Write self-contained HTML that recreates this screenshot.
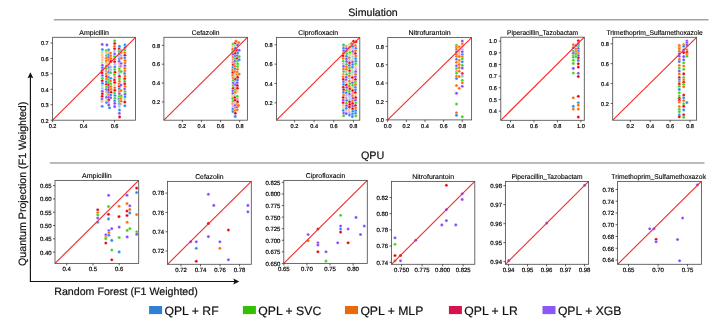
<!DOCTYPE html>
<html><head><meta charset="utf-8"><style>
html,body{margin:0;padding:0;background:#fff;width:714px;height:325px;overflow:hidden}
svg{display:block;will-change:transform}
text{font-family:"Liberation Sans", sans-serif;text-rendering:geometricPrecision}
</style></head><body>
<svg width="714" height="325" viewBox="0 0 714 325">
<rect width="714" height="325" fill="#fff"/>
<line x1="53.9" y1="19.7" x2="708.5" y2="19.7" stroke="#a3a3a3" stroke-width="1.4"/>
<text x="373.0" y="16.4" font-size="10.6" text-anchor="middle" fill="#111" stroke="#111" stroke-width="0.2">Simulation</text>
<line x1="49.8" y1="163.0" x2="704.5" y2="163.0" stroke="#a3a3a3" stroke-width="1.4"/>
<text x="372.6" y="159.0" font-size="10.8" text-anchor="middle" fill="#111" stroke="#111" stroke-width="0.2">QPU</text>
<text x="94.05" y="34.80" font-size="6.9" text-anchor="middle" fill="#000" stroke="#000" stroke-width="0.12" textLength="29.60" lengthAdjust="spacingAndGlyphs">Ampicillin</text>
<circle cx="102.20" cy="44.40" r="1.55" fill="#8248fb" stroke="#fff" stroke-width="0.35"/>
<circle cx="102.36" cy="49.60" r="1.55" fill="#2a86f5" stroke="#fff" stroke-width="0.35"/>
<circle cx="102.23" cy="52.20" r="1.55" fill="#3ad41c" fill-opacity="0.45" stroke="#fff" stroke-width="0.35"/>
<circle cx="102.23" cy="54.80" r="1.55" fill="#ff6a05" fill-opacity="0.45" stroke="#fff" stroke-width="0.35"/>
<circle cx="102.43" cy="57.40" r="1.55" fill="#ff6a05" fill-opacity="0.45" stroke="#fff" stroke-width="0.35"/>
<circle cx="102.20" cy="60.00" r="1.55" fill="#ff6a05" fill-opacity="0.45" stroke="#fff" stroke-width="0.35"/>
<circle cx="102.12" cy="62.60" r="1.55" fill="#3ad41c" fill-opacity="0.45" stroke="#fff" stroke-width="0.35"/>
<circle cx="102.44" cy="65.20" r="1.55" fill="#8248fb" stroke="#fff" stroke-width="0.35"/>
<circle cx="102.39" cy="67.80" r="1.55" fill="#8248fb" stroke="#fff" stroke-width="0.35"/>
<circle cx="102.16" cy="70.40" r="1.55" fill="#2a86f5" stroke="#fff" stroke-width="0.35"/>
<circle cx="102.07" cy="73.00" r="1.55" fill="#e8000b" stroke="#fff" stroke-width="0.35"/>
<circle cx="102.35" cy="75.60" r="1.55" fill="#8248fb" stroke="#fff" stroke-width="0.35"/>
<circle cx="102.35" cy="78.20" r="1.55" fill="#3ad41c" stroke="#fff" stroke-width="0.35"/>
<circle cx="102.21" cy="80.80" r="1.55" fill="#e8000b" stroke="#fff" stroke-width="0.35"/>
<circle cx="102.44" cy="83.40" r="1.55" fill="#2a86f5" stroke="#fff" stroke-width="0.35"/>
<circle cx="102.22" cy="86.00" r="1.55" fill="#3ad41c" fill-opacity="0.45" stroke="#fff" stroke-width="0.35"/>
<circle cx="102.31" cy="88.60" r="1.55" fill="#2a86f5" fill-opacity="0.45" stroke="#fff" stroke-width="0.35"/>
<circle cx="102.34" cy="91.20" r="1.55" fill="#8248fb" stroke="#fff" stroke-width="0.35"/>
<circle cx="102.33" cy="93.80" r="1.55" fill="#e8000b" stroke="#fff" stroke-width="0.35"/>
<circle cx="102.11" cy="96.40" r="1.55" fill="#e8000b" stroke="#fff" stroke-width="0.35"/>
<circle cx="102.05" cy="99.00" r="1.55" fill="#8248fb" stroke="#fff" stroke-width="0.35"/>
<circle cx="101.99" cy="101.60" r="1.55" fill="#ff6a05" fill-opacity="0.45" stroke="#fff" stroke-width="0.35"/>
<circle cx="102.20" cy="106.30" r="1.55" fill="#2a86f5" stroke="#fff" stroke-width="0.35"/>
<circle cx="106.90" cy="44.90" r="1.55" fill="#8248fb" stroke="#fff" stroke-width="0.35"/>
<circle cx="106.23" cy="50.50" r="1.55" fill="#3ad41c" stroke="#fff" stroke-width="0.35"/>
<circle cx="106.15" cy="53.10" r="1.55" fill="#ff6a05" fill-opacity="0.45" stroke="#fff" stroke-width="0.35"/>
<circle cx="106.45" cy="55.70" r="1.55" fill="#3ad41c" stroke="#fff" stroke-width="0.35"/>
<circle cx="106.35" cy="58.30" r="1.55" fill="#ff6a05" stroke="#fff" stroke-width="0.35"/>
<circle cx="106.27" cy="60.90" r="1.55" fill="#ff6a05" stroke="#fff" stroke-width="0.35"/>
<circle cx="106.35" cy="63.50" r="1.55" fill="#ff6a05" fill-opacity="0.45" stroke="#fff" stroke-width="0.35"/>
<circle cx="106.27" cy="66.10" r="1.55" fill="#ff6a05" stroke="#fff" stroke-width="0.35"/>
<circle cx="106.18" cy="68.70" r="1.55" fill="#3ad41c" stroke="#fff" stroke-width="0.35"/>
<circle cx="106.25" cy="71.30" r="1.55" fill="#e8000b" fill-opacity="0.45" stroke="#fff" stroke-width="0.35"/>
<circle cx="106.30" cy="73.90" r="1.55" fill="#ff6a05" stroke="#fff" stroke-width="0.35"/>
<circle cx="106.55" cy="76.50" r="1.55" fill="#e8000b" stroke="#fff" stroke-width="0.35"/>
<circle cx="106.41" cy="79.10" r="1.55" fill="#ff6a05" stroke="#fff" stroke-width="0.35"/>
<circle cx="106.34" cy="81.70" r="1.55" fill="#2a86f5" stroke="#fff" stroke-width="0.35"/>
<circle cx="106.49" cy="84.30" r="1.55" fill="#e8000b" stroke="#fff" stroke-width="0.35"/>
<circle cx="106.52" cy="86.90" r="1.55" fill="#3ad41c" stroke="#fff" stroke-width="0.35"/>
<circle cx="106.32" cy="89.50" r="1.55" fill="#2a86f5" stroke="#fff" stroke-width="0.35"/>
<circle cx="106.62" cy="92.10" r="1.55" fill="#e8000b" fill-opacity="0.45" stroke="#fff" stroke-width="0.35"/>
<circle cx="106.35" cy="94.70" r="1.55" fill="#3ad41c" fill-opacity="0.45" stroke="#fff" stroke-width="0.35"/>
<circle cx="106.51" cy="97.30" r="1.55" fill="#8248fb" stroke="#fff" stroke-width="0.35"/>
<circle cx="106.54" cy="99.90" r="1.55" fill="#3ad41c" fill-opacity="0.45" stroke="#fff" stroke-width="0.35"/>
<circle cx="106.56" cy="102.50" r="1.55" fill="#2a86f5" stroke="#fff" stroke-width="0.35"/>
<circle cx="108.61" cy="49.90" r="1.55" fill="#2a86f5" stroke="#fff" stroke-width="0.35"/>
<circle cx="108.71" cy="52.40" r="1.55" fill="#ff6a05" fill-opacity="0.45" stroke="#fff" stroke-width="0.35"/>
<circle cx="108.65" cy="54.90" r="1.55" fill="#2a86f5" stroke="#fff" stroke-width="0.35"/>
<circle cx="108.69" cy="57.40" r="1.55" fill="#8248fb" stroke="#fff" stroke-width="0.35"/>
<circle cx="108.82" cy="59.90" r="1.55" fill="#ff6a05" stroke="#fff" stroke-width="0.35"/>
<circle cx="108.94" cy="62.40" r="1.55" fill="#ff6a05" fill-opacity="0.45" stroke="#fff" stroke-width="0.35"/>
<circle cx="108.94" cy="64.90" r="1.55" fill="#e8000b" fill-opacity="0.45" stroke="#fff" stroke-width="0.35"/>
<circle cx="108.88" cy="67.40" r="1.55" fill="#2a86f5" stroke="#fff" stroke-width="0.35"/>
<circle cx="108.88" cy="69.90" r="1.55" fill="#e8000b" fill-opacity="0.45" stroke="#fff" stroke-width="0.35"/>
<circle cx="108.71" cy="72.40" r="1.55" fill="#2a86f5" stroke="#fff" stroke-width="0.35"/>
<circle cx="108.58" cy="74.90" r="1.55" fill="#ff6a05" fill-opacity="0.45" stroke="#fff" stroke-width="0.35"/>
<circle cx="108.64" cy="77.40" r="1.55" fill="#2a86f5" stroke="#fff" stroke-width="0.35"/>
<circle cx="108.60" cy="79.90" r="1.55" fill="#3ad41c" stroke="#fff" stroke-width="0.35"/>
<circle cx="108.66" cy="82.40" r="1.55" fill="#3ad41c" stroke="#fff" stroke-width="0.35"/>
<circle cx="108.67" cy="84.90" r="1.55" fill="#e8000b" stroke="#fff" stroke-width="0.35"/>
<circle cx="109.00" cy="87.40" r="1.55" fill="#8248fb" stroke="#fff" stroke-width="0.35"/>
<circle cx="108.63" cy="89.90" r="1.55" fill="#e8000b" stroke="#fff" stroke-width="0.35"/>
<circle cx="108.65" cy="92.40" r="1.55" fill="#2a86f5" stroke="#fff" stroke-width="0.35"/>
<circle cx="108.61" cy="94.90" r="1.55" fill="#ff6a05" stroke="#fff" stroke-width="0.35"/>
<circle cx="108.66" cy="97.40" r="1.55" fill="#8248fb" stroke="#fff" stroke-width="0.35"/>
<circle cx="108.83" cy="99.90" r="1.55" fill="#e8000b" stroke="#fff" stroke-width="0.35"/>
<circle cx="108.60" cy="102.40" r="1.55" fill="#8248fb" fill-opacity="0.45" stroke="#fff" stroke-width="0.35"/>
<circle cx="108.73" cy="104.90" r="1.55" fill="#8248fb" stroke="#fff" stroke-width="0.35"/>
<circle cx="110.61" cy="53.00" r="1.55" fill="#ff6a05" stroke="#fff" stroke-width="0.35"/>
<circle cx="110.64" cy="55.80" r="1.55" fill="#ff6a05" stroke="#fff" stroke-width="0.35"/>
<circle cx="110.84" cy="58.60" r="1.55" fill="#ff6a05" stroke="#fff" stroke-width="0.35"/>
<circle cx="110.81" cy="61.40" r="1.55" fill="#e8000b" stroke="#fff" stroke-width="0.35"/>
<circle cx="110.90" cy="67.00" r="1.55" fill="#8248fb" fill-opacity="0.45" stroke="#fff" stroke-width="0.35"/>
<circle cx="110.75" cy="69.80" r="1.55" fill="#2a86f5" fill-opacity="0.45" stroke="#fff" stroke-width="0.35"/>
<circle cx="110.60" cy="72.60" r="1.55" fill="#3ad41c" stroke="#fff" stroke-width="0.35"/>
<circle cx="110.83" cy="78.20" r="1.55" fill="#2a86f5" stroke="#fff" stroke-width="0.35"/>
<circle cx="110.61" cy="81.00" r="1.55" fill="#ff6a05" stroke="#fff" stroke-width="0.35"/>
<circle cx="110.66" cy="83.80" r="1.55" fill="#3ad41c" stroke="#fff" stroke-width="0.35"/>
<circle cx="110.87" cy="86.60" r="1.55" fill="#ff6a05" stroke="#fff" stroke-width="0.35"/>
<circle cx="111.05" cy="89.40" r="1.55" fill="#ff6a05" stroke="#fff" stroke-width="0.35"/>
<circle cx="111.04" cy="92.20" r="1.55" fill="#e8000b" stroke="#fff" stroke-width="0.35"/>
<circle cx="110.76" cy="95.00" r="1.55" fill="#2a86f5" stroke="#fff" stroke-width="0.35"/>
<circle cx="110.68" cy="97.80" r="1.55" fill="#8248fb" stroke="#fff" stroke-width="0.35"/>
<circle cx="109.50" cy="107.80" r="1.55" fill="#2a86f5" stroke="#fff" stroke-width="0.35"/>
<circle cx="114.70" cy="40.80" r="1.55" fill="#3ad41c" stroke="#fff" stroke-width="0.35"/>
<circle cx="114.70" cy="43.60" r="1.55" fill="#e8000b" stroke="#fff" stroke-width="0.35"/>
<circle cx="114.50" cy="46.20" r="1.55" fill="#ff6a05" stroke="#fff" stroke-width="0.35"/>
<circle cx="114.56" cy="48.80" r="1.55" fill="#e8000b" stroke="#fff" stroke-width="0.35"/>
<circle cx="114.46" cy="51.40" r="1.55" fill="#2a86f5" fill-opacity="0.45" stroke="#fff" stroke-width="0.35"/>
<circle cx="114.64" cy="54.00" r="1.55" fill="#8248fb" stroke="#fff" stroke-width="0.35"/>
<circle cx="114.47" cy="56.60" r="1.55" fill="#3ad41c" stroke="#fff" stroke-width="0.35"/>
<circle cx="114.62" cy="59.20" r="1.55" fill="#ff6a05" stroke="#fff" stroke-width="0.35"/>
<circle cx="114.64" cy="61.80" r="1.55" fill="#e8000b" stroke="#fff" stroke-width="0.35"/>
<circle cx="114.85" cy="64.40" r="1.55" fill="#8248fb" fill-opacity="0.45" stroke="#fff" stroke-width="0.35"/>
<circle cx="114.83" cy="67.00" r="1.55" fill="#2a86f5" stroke="#fff" stroke-width="0.35"/>
<circle cx="114.70" cy="69.60" r="1.55" fill="#3ad41c" stroke="#fff" stroke-width="0.35"/>
<circle cx="114.89" cy="72.20" r="1.55" fill="#e8000b" stroke="#fff" stroke-width="0.35"/>
<circle cx="114.47" cy="74.80" r="1.55" fill="#3ad41c" stroke="#fff" stroke-width="0.35"/>
<circle cx="114.84" cy="77.40" r="1.55" fill="#e8000b" fill-opacity="0.45" stroke="#fff" stroke-width="0.35"/>
<circle cx="114.45" cy="80.00" r="1.55" fill="#e8000b" stroke="#fff" stroke-width="0.35"/>
<circle cx="114.76" cy="82.60" r="1.55" fill="#e8000b" stroke="#fff" stroke-width="0.35"/>
<circle cx="114.61" cy="85.20" r="1.55" fill="#3ad41c" fill-opacity="0.45" stroke="#fff" stroke-width="0.35"/>
<circle cx="114.77" cy="87.80" r="1.55" fill="#ff6a05" stroke="#fff" stroke-width="0.35"/>
<circle cx="114.79" cy="90.40" r="1.55" fill="#e8000b" stroke="#fff" stroke-width="0.35"/>
<circle cx="114.58" cy="93.00" r="1.55" fill="#3ad41c" stroke="#fff" stroke-width="0.35"/>
<circle cx="114.92" cy="95.60" r="1.55" fill="#2a86f5" stroke="#fff" stroke-width="0.35"/>
<circle cx="114.93" cy="98.20" r="1.55" fill="#3ad41c" stroke="#fff" stroke-width="0.35"/>
<circle cx="114.64" cy="100.80" r="1.55" fill="#2a86f5" stroke="#fff" stroke-width="0.35"/>
<circle cx="114.79" cy="103.40" r="1.55" fill="#8248fb" stroke="#fff" stroke-width="0.35"/>
<circle cx="114.70" cy="106.60" r="1.55" fill="#8248fb" stroke="#fff" stroke-width="0.35"/>
<circle cx="119.42" cy="46.40" r="1.55" fill="#2a86f5" stroke="#fff" stroke-width="0.35"/>
<circle cx="119.23" cy="48.90" r="1.55" fill="#e8000b" stroke="#fff" stroke-width="0.35"/>
<circle cx="119.15" cy="51.40" r="1.55" fill="#3ad41c" stroke="#fff" stroke-width="0.35"/>
<circle cx="119.29" cy="53.90" r="1.55" fill="#2a86f5" stroke="#fff" stroke-width="0.35"/>
<circle cx="119.06" cy="56.40" r="1.55" fill="#2a86f5" fill-opacity="0.45" stroke="#fff" stroke-width="0.35"/>
<circle cx="119.39" cy="58.90" r="1.55" fill="#2a86f5" stroke="#fff" stroke-width="0.35"/>
<circle cx="119.18" cy="61.40" r="1.55" fill="#8248fb" stroke="#fff" stroke-width="0.35"/>
<circle cx="119.25" cy="63.90" r="1.55" fill="#ff6a05" fill-opacity="0.45" stroke="#fff" stroke-width="0.35"/>
<circle cx="119.37" cy="66.40" r="1.55" fill="#8248fb" fill-opacity="0.45" stroke="#fff" stroke-width="0.35"/>
<circle cx="119.38" cy="68.90" r="1.55" fill="#3ad41c" stroke="#fff" stroke-width="0.35"/>
<circle cx="119.53" cy="71.40" r="1.55" fill="#ff6a05" stroke="#fff" stroke-width="0.35"/>
<circle cx="119.18" cy="73.90" r="1.55" fill="#2a86f5" fill-opacity="0.45" stroke="#fff" stroke-width="0.35"/>
<circle cx="119.42" cy="76.40" r="1.55" fill="#e8000b" stroke="#fff" stroke-width="0.35"/>
<circle cx="119.45" cy="78.90" r="1.55" fill="#3ad41c" stroke="#fff" stroke-width="0.35"/>
<circle cx="119.45" cy="81.40" r="1.55" fill="#ff6a05" stroke="#fff" stroke-width="0.35"/>
<circle cx="119.20" cy="83.90" r="1.55" fill="#ff6a05" stroke="#fff" stroke-width="0.35"/>
<circle cx="119.36" cy="86.40" r="1.55" fill="#e8000b" stroke="#fff" stroke-width="0.35"/>
<circle cx="119.29" cy="88.90" r="1.55" fill="#2a86f5" stroke="#fff" stroke-width="0.35"/>
<circle cx="119.55" cy="91.40" r="1.55" fill="#ff6a05" stroke="#fff" stroke-width="0.35"/>
<circle cx="119.45" cy="93.90" r="1.55" fill="#8248fb" stroke="#fff" stroke-width="0.35"/>
<circle cx="119.12" cy="96.40" r="1.55" fill="#3ad41c" stroke="#fff" stroke-width="0.35"/>
<circle cx="119.06" cy="98.90" r="1.55" fill="#2a86f5" stroke="#fff" stroke-width="0.35"/>
<circle cx="119.46" cy="101.40" r="1.55" fill="#3ad41c" stroke="#fff" stroke-width="0.35"/>
<circle cx="119.35" cy="103.90" r="1.55" fill="#2a86f5" stroke="#fff" stroke-width="0.35"/>
<circle cx="119.37" cy="106.40" r="1.55" fill="#2a86f5" fill-opacity="0.45" stroke="#fff" stroke-width="0.35"/>
<circle cx="121.04" cy="50.00" r="1.55" fill="#2a86f5" fill-opacity="0.45" stroke="#fff" stroke-width="0.35"/>
<circle cx="121.18" cy="52.70" r="1.55" fill="#ff6a05" stroke="#fff" stroke-width="0.35"/>
<circle cx="121.06" cy="55.40" r="1.55" fill="#8248fb" fill-opacity="0.45" stroke="#fff" stroke-width="0.35"/>
<circle cx="121.32" cy="58.10" r="1.55" fill="#ff6a05" stroke="#fff" stroke-width="0.35"/>
<circle cx="121.09" cy="63.50" r="1.55" fill="#8248fb" stroke="#fff" stroke-width="0.35"/>
<circle cx="120.89" cy="66.20" r="1.55" fill="#e8000b" fill-opacity="0.45" stroke="#fff" stroke-width="0.35"/>
<circle cx="121.13" cy="71.60" r="1.55" fill="#3ad41c" stroke="#fff" stroke-width="0.35"/>
<circle cx="120.94" cy="85.10" r="1.55" fill="#8248fb" stroke="#fff" stroke-width="0.35"/>
<circle cx="121.02" cy="90.50" r="1.55" fill="#ff6a05" stroke="#fff" stroke-width="0.35"/>
<circle cx="121.21" cy="95.90" r="1.55" fill="#3ad41c" stroke="#fff" stroke-width="0.35"/>
<circle cx="120.86" cy="98.60" r="1.55" fill="#ff6a05" stroke="#fff" stroke-width="0.35"/>
<circle cx="121.18" cy="101.30" r="1.55" fill="#ff6a05" stroke="#fff" stroke-width="0.35"/>
<circle cx="120.92" cy="104.00" r="1.55" fill="#ff6a05" fill-opacity="0.45" stroke="#fff" stroke-width="0.35"/>
<circle cx="119.50" cy="110.00" r="1.55" fill="#2a86f5" stroke="#fff" stroke-width="0.35"/>
<circle cx="119.40" cy="113.20" r="1.55" fill="#8248fb" stroke="#fff" stroke-width="0.35"/>
<circle cx="119.60" cy="116.90" r="1.55" fill="#e8000b" stroke="#fff" stroke-width="0.35"/>
<circle cx="124.90" cy="44.90" r="1.55" fill="#2a86f5" stroke="#fff" stroke-width="0.35"/>
<circle cx="125.12" cy="47.50" r="1.55" fill="#2a86f5" stroke="#fff" stroke-width="0.35"/>
<circle cx="124.86" cy="50.10" r="1.55" fill="#3ad41c" stroke="#fff" stroke-width="0.35"/>
<circle cx="124.78" cy="52.70" r="1.55" fill="#ff6a05" stroke="#fff" stroke-width="0.35"/>
<circle cx="124.89" cy="55.30" r="1.55" fill="#e8000b" stroke="#fff" stroke-width="0.35"/>
<circle cx="124.78" cy="57.90" r="1.55" fill="#2a86f5" stroke="#fff" stroke-width="0.35"/>
<circle cx="125.13" cy="60.50" r="1.55" fill="#ff6a05" stroke="#fff" stroke-width="0.35"/>
<circle cx="125.00" cy="63.10" r="1.55" fill="#ff6a05" stroke="#fff" stroke-width="0.35"/>
<circle cx="124.88" cy="65.70" r="1.55" fill="#8248fb" stroke="#fff" stroke-width="0.35"/>
<circle cx="124.86" cy="68.30" r="1.55" fill="#ff6a05" stroke="#fff" stroke-width="0.35"/>
<circle cx="124.81" cy="70.90" r="1.55" fill="#ff6a05" stroke="#fff" stroke-width="0.35"/>
<circle cx="124.66" cy="73.50" r="1.55" fill="#2a86f5" stroke="#fff" stroke-width="0.35"/>
<circle cx="125.03" cy="76.10" r="1.55" fill="#ff6a05" stroke="#fff" stroke-width="0.35"/>
<circle cx="124.72" cy="78.70" r="1.55" fill="#e8000b" stroke="#fff" stroke-width="0.35"/>
<circle cx="124.66" cy="81.30" r="1.55" fill="#3ad41c" stroke="#fff" stroke-width="0.35"/>
<circle cx="124.75" cy="83.90" r="1.55" fill="#e8000b" stroke="#fff" stroke-width="0.35"/>
<circle cx="125.06" cy="86.50" r="1.55" fill="#ff6a05" stroke="#fff" stroke-width="0.35"/>
<circle cx="124.65" cy="89.10" r="1.55" fill="#8248fb" stroke="#fff" stroke-width="0.35"/>
<circle cx="125.08" cy="91.70" r="1.55" fill="#3ad41c" stroke="#fff" stroke-width="0.35"/>
<circle cx="125.00" cy="94.30" r="1.55" fill="#8248fb" stroke="#fff" stroke-width="0.35"/>
<circle cx="124.91" cy="96.90" r="1.55" fill="#2a86f5" stroke="#fff" stroke-width="0.35"/>
<circle cx="124.70" cy="99.50" r="1.55" fill="#3ad41c" fill-opacity="0.45" stroke="#fff" stroke-width="0.35"/>
<circle cx="124.81" cy="102.10" r="1.55" fill="#e8000b" stroke="#fff" stroke-width="0.35"/>
<circle cx="124.90" cy="105.70" r="1.55" fill="#2a86f5" stroke="#fff" stroke-width="0.35"/>
<line x1="52.60" y1="120.20" x2="135.50" y2="37.30" stroke="#f42a2a" stroke-width="1.1"/>
<rect x="52.60" y="37.30" width="82.90" height="82.90" fill="none" stroke="#505050" stroke-width="0.85"/>
<line x1="52.60" y1="120.20" x2="52.60" y2="122.20" stroke="#333" stroke-width="0.8"/>
<text x="52.60" y="127.80" font-size="5.6" text-anchor="middle" fill="#000" stroke="#000" stroke-width="0.18">0.2</text>
<line x1="83.56" y1="120.20" x2="83.56" y2="122.20" stroke="#333" stroke-width="0.8"/>
<text x="83.56" y="127.80" font-size="5.6" text-anchor="middle" fill="#000" stroke="#000" stroke-width="0.18">0.4</text>
<line x1="114.52" y1="120.20" x2="114.52" y2="122.20" stroke="#333" stroke-width="0.8"/>
<text x="114.52" y="127.80" font-size="5.6" text-anchor="middle" fill="#000" stroke="#000" stroke-width="0.18">0.6</text>
<line x1="50.60" y1="120.20" x2="52.60" y2="120.20" stroke="#333" stroke-width="0.8"/>
<text x="48.70" y="122.50" font-size="5.6" text-anchor="end" fill="#000" stroke="#000" stroke-width="0.18">0.2</text>
<line x1="50.60" y1="104.76" x2="52.60" y2="104.76" stroke="#333" stroke-width="0.8"/>
<text x="48.70" y="107.06" font-size="5.6" text-anchor="end" fill="#000" stroke="#000" stroke-width="0.18">0.3</text>
<line x1="50.60" y1="89.32" x2="52.60" y2="89.32" stroke="#333" stroke-width="0.8"/>
<text x="48.70" y="91.62" font-size="5.6" text-anchor="end" fill="#000" stroke="#000" stroke-width="0.18">0.4</text>
<line x1="50.60" y1="73.89" x2="52.60" y2="73.89" stroke="#333" stroke-width="0.8"/>
<text x="48.70" y="76.19" font-size="5.6" text-anchor="end" fill="#000" stroke="#000" stroke-width="0.18">0.5</text>
<line x1="50.60" y1="58.45" x2="52.60" y2="58.45" stroke="#333" stroke-width="0.8"/>
<text x="48.70" y="60.75" font-size="5.6" text-anchor="end" fill="#000" stroke="#000" stroke-width="0.18">0.6</text>
<line x1="50.60" y1="43.01" x2="52.60" y2="43.01" stroke="#333" stroke-width="0.8"/>
<text x="48.70" y="45.31" font-size="5.6" text-anchor="end" fill="#000" stroke="#000" stroke-width="0.18">0.7</text>
<text x="205.65" y="34.80" font-size="6.9" text-anchor="middle" fill="#000" stroke="#000" stroke-width="0.12" textLength="27.80" lengthAdjust="spacingAndGlyphs">Cefazolin</text>
<circle cx="232.99" cy="44.00" r="1.55" fill="#3ad41c" stroke="#fff" stroke-width="0.35"/>
<circle cx="232.87" cy="46.60" r="1.55" fill="#ff6a05" fill-opacity="0.45" stroke="#fff" stroke-width="0.35"/>
<circle cx="232.67" cy="49.20" r="1.55" fill="#ff6a05" stroke="#fff" stroke-width="0.35"/>
<circle cx="232.80" cy="51.80" r="1.55" fill="#3ad41c" stroke="#fff" stroke-width="0.35"/>
<circle cx="233.06" cy="54.40" r="1.55" fill="#8248fb" stroke="#fff" stroke-width="0.35"/>
<circle cx="233.09" cy="57.00" r="1.55" fill="#ff6a05" stroke="#fff" stroke-width="0.35"/>
<circle cx="232.99" cy="59.60" r="1.55" fill="#e8000b" fill-opacity="0.45" stroke="#fff" stroke-width="0.35"/>
<circle cx="232.75" cy="62.20" r="1.55" fill="#e8000b" fill-opacity="0.45" stroke="#fff" stroke-width="0.35"/>
<circle cx="233.20" cy="64.80" r="1.55" fill="#e8000b" stroke="#fff" stroke-width="0.35"/>
<circle cx="233.01" cy="67.40" r="1.55" fill="#2a86f5" stroke="#fff" stroke-width="0.35"/>
<circle cx="232.66" cy="70.00" r="1.55" fill="#ff6a05" stroke="#fff" stroke-width="0.35"/>
<circle cx="232.79" cy="72.60" r="1.55" fill="#e8000b" stroke="#fff" stroke-width="0.35"/>
<circle cx="232.72" cy="75.20" r="1.55" fill="#ff6a05" stroke="#fff" stroke-width="0.35"/>
<circle cx="233.13" cy="77.80" r="1.55" fill="#ff6a05" stroke="#fff" stroke-width="0.35"/>
<circle cx="233.14" cy="80.40" r="1.55" fill="#3ad41c" stroke="#fff" stroke-width="0.35"/>
<circle cx="233.17" cy="83.00" r="1.55" fill="#8248fb" stroke="#fff" stroke-width="0.35"/>
<circle cx="233.15" cy="85.60" r="1.55" fill="#3ad41c" stroke="#fff" stroke-width="0.35"/>
<circle cx="233.19" cy="88.20" r="1.55" fill="#e8000b" stroke="#fff" stroke-width="0.35"/>
<circle cx="232.86" cy="90.80" r="1.55" fill="#8248fb" stroke="#fff" stroke-width="0.35"/>
<circle cx="232.93" cy="93.40" r="1.55" fill="#8248fb" stroke="#fff" stroke-width="0.35"/>
<circle cx="232.76" cy="96.00" r="1.55" fill="#ff6a05" fill-opacity="0.45" stroke="#fff" stroke-width="0.35"/>
<circle cx="232.67" cy="98.60" r="1.55" fill="#3ad41c" stroke="#fff" stroke-width="0.35"/>
<circle cx="233.02" cy="101.20" r="1.55" fill="#3ad41c" stroke="#fff" stroke-width="0.35"/>
<circle cx="232.68" cy="103.80" r="1.55" fill="#e8000b" fill-opacity="0.45" stroke="#fff" stroke-width="0.35"/>
<circle cx="233.13" cy="106.40" r="1.55" fill="#8248fb" fill-opacity="0.45" stroke="#fff" stroke-width="0.35"/>
<circle cx="232.82" cy="109.00" r="1.55" fill="#2a86f5" stroke="#fff" stroke-width="0.35"/>
<circle cx="232.94" cy="111.60" r="1.55" fill="#2a86f5" stroke="#fff" stroke-width="0.35"/>
<circle cx="235.23" cy="43.00" r="1.55" fill="#e8000b" stroke="#fff" stroke-width="0.35"/>
<circle cx="234.93" cy="45.60" r="1.55" fill="#3ad41c" fill-opacity="0.45" stroke="#fff" stroke-width="0.35"/>
<circle cx="235.41" cy="48.20" r="1.55" fill="#8248fb" stroke="#fff" stroke-width="0.35"/>
<circle cx="235.29" cy="50.80" r="1.55" fill="#ff6a05" stroke="#fff" stroke-width="0.35"/>
<circle cx="235.41" cy="53.40" r="1.55" fill="#e8000b" stroke="#fff" stroke-width="0.35"/>
<circle cx="235.10" cy="56.00" r="1.55" fill="#2a86f5" stroke="#fff" stroke-width="0.35"/>
<circle cx="235.12" cy="58.60" r="1.55" fill="#3ad41c" stroke="#fff" stroke-width="0.35"/>
<circle cx="234.90" cy="61.20" r="1.55" fill="#8248fb" stroke="#fff" stroke-width="0.35"/>
<circle cx="234.91" cy="63.80" r="1.55" fill="#e8000b" fill-opacity="0.45" stroke="#fff" stroke-width="0.35"/>
<circle cx="234.96" cy="66.40" r="1.55" fill="#ff6a05" stroke="#fff" stroke-width="0.35"/>
<circle cx="235.12" cy="69.00" r="1.55" fill="#2a86f5" stroke="#fff" stroke-width="0.35"/>
<circle cx="234.94" cy="71.60" r="1.55" fill="#ff6a05" stroke="#fff" stroke-width="0.35"/>
<circle cx="235.21" cy="74.20" r="1.55" fill="#2a86f5" fill-opacity="0.45" stroke="#fff" stroke-width="0.35"/>
<circle cx="235.22" cy="76.80" r="1.55" fill="#3ad41c" fill-opacity="0.45" stroke="#fff" stroke-width="0.35"/>
<circle cx="235.45" cy="79.40" r="1.55" fill="#e8000b" stroke="#fff" stroke-width="0.35"/>
<circle cx="235.38" cy="82.00" r="1.55" fill="#2a86f5" fill-opacity="0.45" stroke="#fff" stroke-width="0.35"/>
<circle cx="235.33" cy="84.60" r="1.55" fill="#8248fb" stroke="#fff" stroke-width="0.35"/>
<circle cx="235.42" cy="87.20" r="1.55" fill="#2a86f5" fill-opacity="0.45" stroke="#fff" stroke-width="0.35"/>
<circle cx="235.31" cy="89.80" r="1.55" fill="#3ad41c" stroke="#fff" stroke-width="0.35"/>
<circle cx="235.35" cy="92.40" r="1.55" fill="#ff6a05" stroke="#fff" stroke-width="0.35"/>
<circle cx="234.93" cy="95.00" r="1.55" fill="#3ad41c" fill-opacity="0.45" stroke="#fff" stroke-width="0.35"/>
<circle cx="234.95" cy="97.60" r="1.55" fill="#e8000b" stroke="#fff" stroke-width="0.35"/>
<circle cx="235.05" cy="100.20" r="1.55" fill="#e8000b" stroke="#fff" stroke-width="0.35"/>
<circle cx="234.94" cy="102.80" r="1.55" fill="#ff6a05" fill-opacity="0.45" stroke="#fff" stroke-width="0.35"/>
<circle cx="235.18" cy="105.40" r="1.55" fill="#8248fb" stroke="#fff" stroke-width="0.35"/>
<circle cx="235.02" cy="108.00" r="1.55" fill="#e8000b" fill-opacity="0.45" stroke="#fff" stroke-width="0.35"/>
<circle cx="235.17" cy="110.60" r="1.55" fill="#ff6a05" stroke="#fff" stroke-width="0.35"/>
<circle cx="235.38" cy="113.20" r="1.55" fill="#e8000b" stroke="#fff" stroke-width="0.35"/>
<circle cx="237.45" cy="45.00" r="1.55" fill="#8248fb" stroke="#fff" stroke-width="0.35"/>
<circle cx="237.35" cy="50.40" r="1.55" fill="#e8000b" stroke="#fff" stroke-width="0.35"/>
<circle cx="237.69" cy="53.10" r="1.55" fill="#2a86f5" stroke="#fff" stroke-width="0.35"/>
<circle cx="237.36" cy="55.80" r="1.55" fill="#8248fb" stroke="#fff" stroke-width="0.35"/>
<circle cx="237.21" cy="58.50" r="1.55" fill="#e8000b" stroke="#fff" stroke-width="0.35"/>
<circle cx="237.40" cy="61.20" r="1.55" fill="#3ad41c" stroke="#fff" stroke-width="0.35"/>
<circle cx="237.71" cy="63.90" r="1.55" fill="#3ad41c" stroke="#fff" stroke-width="0.35"/>
<circle cx="237.55" cy="66.60" r="1.55" fill="#3ad41c" stroke="#fff" stroke-width="0.35"/>
<circle cx="237.58" cy="69.30" r="1.55" fill="#ff6a05" stroke="#fff" stroke-width="0.35"/>
<circle cx="237.22" cy="72.00" r="1.55" fill="#ff6a05" stroke="#fff" stroke-width="0.35"/>
<circle cx="237.30" cy="74.70" r="1.55" fill="#ff6a05" stroke="#fff" stroke-width="0.35"/>
<circle cx="237.64" cy="77.40" r="1.55" fill="#e8000b" stroke="#fff" stroke-width="0.35"/>
<circle cx="237.46" cy="80.10" r="1.55" fill="#2a86f5" stroke="#fff" stroke-width="0.35"/>
<circle cx="237.24" cy="82.80" r="1.55" fill="#8248fb" stroke="#fff" stroke-width="0.35"/>
<circle cx="237.28" cy="85.50" r="1.55" fill="#e8000b" stroke="#fff" stroke-width="0.35"/>
<circle cx="237.51" cy="88.20" r="1.55" fill="#e8000b" stroke="#fff" stroke-width="0.35"/>
<circle cx="237.39" cy="90.90" r="1.55" fill="#ff6a05" fill-opacity="0.45" stroke="#fff" stroke-width="0.35"/>
<circle cx="237.28" cy="96.30" r="1.55" fill="#3ad41c" stroke="#fff" stroke-width="0.35"/>
<circle cx="237.48" cy="99.00" r="1.55" fill="#e8000b" fill-opacity="0.45" stroke="#fff" stroke-width="0.35"/>
<circle cx="237.53" cy="101.70" r="1.55" fill="#e8000b" stroke="#fff" stroke-width="0.35"/>
<circle cx="237.23" cy="104.40" r="1.55" fill="#ff6a05" stroke="#fff" stroke-width="0.35"/>
<circle cx="237.20" cy="107.10" r="1.55" fill="#8248fb" stroke="#fff" stroke-width="0.35"/>
<circle cx="237.23" cy="109.80" r="1.55" fill="#ff6a05" stroke="#fff" stroke-width="0.35"/>
<circle cx="239.17" cy="50.20" r="1.55" fill="#8248fb" stroke="#fff" stroke-width="0.35"/>
<circle cx="239.24" cy="56.60" r="1.55" fill="#3ad41c" stroke="#fff" stroke-width="0.35"/>
<circle cx="239.25" cy="59.80" r="1.55" fill="#2a86f5" stroke="#fff" stroke-width="0.35"/>
<circle cx="236.00" cy="41.10" r="1.55" fill="#ff6a05" stroke="#fff" stroke-width="0.35"/>
<circle cx="238.70" cy="42.60" r="1.55" fill="#ff6a05" stroke="#fff" stroke-width="0.35"/>
<circle cx="238.50" cy="105.50" r="1.55" fill="#ff6a05" stroke="#fff" stroke-width="0.35"/>
<circle cx="239.20" cy="74.00" r="1.55" fill="#ff6a05" stroke="#fff" stroke-width="0.35"/>
<circle cx="235.20" cy="116.40" r="1.55" fill="#2a86f5" stroke="#fff" stroke-width="0.35"/>
<line x1="163.90" y1="120.20" x2="247.40" y2="37.30" stroke="#f42a2a" stroke-width="1.1"/>
<rect x="163.90" y="37.30" width="83.50" height="82.90" fill="none" stroke="#505050" stroke-width="0.85"/>
<line x1="182.32" y1="120.20" x2="182.32" y2="122.20" stroke="#333" stroke-width="0.8"/>
<text x="182.32" y="127.80" font-size="5.6" text-anchor="middle" fill="#000" stroke="#000" stroke-width="0.18">0.2</text>
<line x1="201.43" y1="120.20" x2="201.43" y2="122.20" stroke="#333" stroke-width="0.8"/>
<text x="201.43" y="127.80" font-size="5.6" text-anchor="middle" fill="#000" stroke="#000" stroke-width="0.18">0.4</text>
<line x1="220.54" y1="120.20" x2="220.54" y2="122.20" stroke="#333" stroke-width="0.8"/>
<text x="220.54" y="127.80" font-size="5.6" text-anchor="middle" fill="#000" stroke="#000" stroke-width="0.18">0.6</text>
<line x1="239.66" y1="120.20" x2="239.66" y2="122.20" stroke="#333" stroke-width="0.8"/>
<text x="239.66" y="127.80" font-size="5.6" text-anchor="middle" fill="#000" stroke="#000" stroke-width="0.18">0.8</text>
<line x1="161.90" y1="101.90" x2="163.90" y2="101.90" stroke="#333" stroke-width="0.8"/>
<text x="160.00" y="104.20" font-size="5.6" text-anchor="end" fill="#000" stroke="#000" stroke-width="0.18">0.2</text>
<line x1="161.90" y1="83.04" x2="163.90" y2="83.04" stroke="#333" stroke-width="0.8"/>
<text x="160.00" y="85.34" font-size="5.6" text-anchor="end" fill="#000" stroke="#000" stroke-width="0.18">0.4</text>
<line x1="161.90" y1="64.18" x2="163.90" y2="64.18" stroke="#333" stroke-width="0.8"/>
<text x="160.00" y="66.48" font-size="5.6" text-anchor="end" fill="#000" stroke="#000" stroke-width="0.18">0.6</text>
<line x1="161.90" y1="45.32" x2="163.90" y2="45.32" stroke="#333" stroke-width="0.8"/>
<text x="160.00" y="47.62" font-size="5.6" text-anchor="end" fill="#000" stroke="#000" stroke-width="0.18">0.8</text>
<text x="318.15" y="34.90" font-size="6.9" text-anchor="middle" fill="#000" stroke="#000" stroke-width="0.12" textLength="39.80" lengthAdjust="spacingAndGlyphs">Ciprofloxacin</text>
<circle cx="343.58" cy="45.58" r="1.55" fill="#8248fb" stroke="#fff" stroke-width="0.35"/>
<circle cx="343.59" cy="48.18" r="1.55" fill="#2a86f5" stroke="#fff" stroke-width="0.35"/>
<circle cx="343.69" cy="50.78" r="1.55" fill="#8248fb" stroke="#fff" stroke-width="0.35"/>
<circle cx="343.43" cy="53.38" r="1.55" fill="#ff6a05" stroke="#fff" stroke-width="0.35"/>
<circle cx="343.13" cy="55.98" r="1.55" fill="#e8000b" stroke="#fff" stroke-width="0.35"/>
<circle cx="343.20" cy="58.58" r="1.55" fill="#ff6a05" stroke="#fff" stroke-width="0.35"/>
<circle cx="343.26" cy="61.18" r="1.55" fill="#3ad41c" stroke="#fff" stroke-width="0.35"/>
<circle cx="343.23" cy="63.78" r="1.55" fill="#8248fb" fill-opacity="0.45" stroke="#fff" stroke-width="0.35"/>
<circle cx="343.57" cy="66.38" r="1.55" fill="#8248fb" stroke="#fff" stroke-width="0.35"/>
<circle cx="343.50" cy="68.98" r="1.55" fill="#ff6a05" stroke="#fff" stroke-width="0.35"/>
<circle cx="343.64" cy="71.58" r="1.55" fill="#3ad41c" stroke="#fff" stroke-width="0.35"/>
<circle cx="343.37" cy="74.18" r="1.55" fill="#e8000b" fill-opacity="0.45" stroke="#fff" stroke-width="0.35"/>
<circle cx="343.15" cy="76.78" r="1.55" fill="#ff6a05" stroke="#fff" stroke-width="0.35"/>
<circle cx="343.34" cy="79.38" r="1.55" fill="#e8000b" stroke="#fff" stroke-width="0.35"/>
<circle cx="343.50" cy="81.98" r="1.55" fill="#2a86f5" stroke="#fff" stroke-width="0.35"/>
<circle cx="343.62" cy="84.58" r="1.55" fill="#2a86f5" stroke="#fff" stroke-width="0.35"/>
<circle cx="343.35" cy="87.18" r="1.55" fill="#e8000b" stroke="#fff" stroke-width="0.35"/>
<circle cx="343.66" cy="89.78" r="1.55" fill="#e8000b" stroke="#fff" stroke-width="0.35"/>
<circle cx="343.45" cy="92.38" r="1.55" fill="#2a86f5" stroke="#fff" stroke-width="0.35"/>
<circle cx="343.59" cy="94.98" r="1.55" fill="#ff6a05" stroke="#fff" stroke-width="0.35"/>
<circle cx="343.21" cy="97.58" r="1.55" fill="#e8000b" stroke="#fff" stroke-width="0.35"/>
<circle cx="343.28" cy="100.18" r="1.55" fill="#8248fb" stroke="#fff" stroke-width="0.35"/>
<circle cx="343.16" cy="102.78" r="1.55" fill="#e8000b" stroke="#fff" stroke-width="0.35"/>
<circle cx="343.44" cy="105.38" r="1.55" fill="#ff6a05" fill-opacity="0.45" stroke="#fff" stroke-width="0.35"/>
<circle cx="343.34" cy="107.98" r="1.55" fill="#3ad41c" fill-opacity="0.45" stroke="#fff" stroke-width="0.35"/>
<circle cx="343.31" cy="110.58" r="1.55" fill="#2a86f5" stroke="#fff" stroke-width="0.35"/>
<circle cx="343.69" cy="113.18" r="1.55" fill="#8248fb" stroke="#fff" stroke-width="0.35"/>
<circle cx="343.62" cy="115.78" r="1.55" fill="#3ad41c" stroke="#fff" stroke-width="0.35"/>
<circle cx="346.35" cy="45.98" r="1.55" fill="#e8000b" fill-opacity="0.45" stroke="#fff" stroke-width="0.35"/>
<circle cx="346.43" cy="48.58" r="1.55" fill="#8248fb" stroke="#fff" stroke-width="0.35"/>
<circle cx="346.36" cy="51.18" r="1.55" fill="#2a86f5" stroke="#fff" stroke-width="0.35"/>
<circle cx="346.59" cy="53.78" r="1.55" fill="#3ad41c" stroke="#fff" stroke-width="0.35"/>
<circle cx="346.54" cy="56.38" r="1.55" fill="#2a86f5" stroke="#fff" stroke-width="0.35"/>
<circle cx="346.44" cy="58.98" r="1.55" fill="#8248fb" stroke="#fff" stroke-width="0.35"/>
<circle cx="346.67" cy="61.58" r="1.55" fill="#8248fb" stroke="#fff" stroke-width="0.35"/>
<circle cx="346.51" cy="64.18" r="1.55" fill="#3ad41c" stroke="#fff" stroke-width="0.35"/>
<circle cx="346.43" cy="66.78" r="1.55" fill="#ff6a05" stroke="#fff" stroke-width="0.35"/>
<circle cx="346.45" cy="69.38" r="1.55" fill="#ff6a05" stroke="#fff" stroke-width="0.35"/>
<circle cx="346.35" cy="71.98" r="1.55" fill="#8248fb" fill-opacity="0.45" stroke="#fff" stroke-width="0.35"/>
<circle cx="346.56" cy="74.58" r="1.55" fill="#3ad41c" stroke="#fff" stroke-width="0.35"/>
<circle cx="346.35" cy="77.18" r="1.55" fill="#8248fb" stroke="#fff" stroke-width="0.35"/>
<circle cx="346.14" cy="79.78" r="1.55" fill="#8248fb" stroke="#fff" stroke-width="0.35"/>
<circle cx="346.31" cy="82.38" r="1.55" fill="#ff6a05" fill-opacity="0.45" stroke="#fff" stroke-width="0.35"/>
<circle cx="346.37" cy="84.98" r="1.55" fill="#e8000b" stroke="#fff" stroke-width="0.35"/>
<circle cx="346.70" cy="87.58" r="1.55" fill="#8248fb" stroke="#fff" stroke-width="0.35"/>
<circle cx="346.57" cy="90.18" r="1.55" fill="#3ad41c" stroke="#fff" stroke-width="0.35"/>
<circle cx="346.30" cy="92.78" r="1.55" fill="#2a86f5" stroke="#fff" stroke-width="0.35"/>
<circle cx="346.35" cy="95.38" r="1.55" fill="#8248fb" fill-opacity="0.45" stroke="#fff" stroke-width="0.35"/>
<circle cx="346.32" cy="97.98" r="1.55" fill="#e8000b" fill-opacity="0.45" stroke="#fff" stroke-width="0.35"/>
<circle cx="346.65" cy="100.58" r="1.55" fill="#2a86f5" stroke="#fff" stroke-width="0.35"/>
<circle cx="346.41" cy="103.18" r="1.55" fill="#3ad41c" stroke="#fff" stroke-width="0.35"/>
<circle cx="346.53" cy="105.78" r="1.55" fill="#8248fb" stroke="#fff" stroke-width="0.35"/>
<circle cx="346.32" cy="108.38" r="1.55" fill="#2a86f5" stroke="#fff" stroke-width="0.35"/>
<circle cx="346.33" cy="110.98" r="1.55" fill="#ff6a05" fill-opacity="0.45" stroke="#fff" stroke-width="0.35"/>
<circle cx="346.21" cy="113.58" r="1.55" fill="#8248fb" stroke="#fff" stroke-width="0.35"/>
<circle cx="349.37" cy="44.71" r="1.55" fill="#3ad41c" fill-opacity="0.45" stroke="#fff" stroke-width="0.35"/>
<circle cx="349.70" cy="47.31" r="1.55" fill="#ff6a05" stroke="#fff" stroke-width="0.35"/>
<circle cx="349.51" cy="49.91" r="1.55" fill="#ff6a05" fill-opacity="0.45" stroke="#fff" stroke-width="0.35"/>
<circle cx="349.79" cy="52.51" r="1.55" fill="#3ad41c" stroke="#fff" stroke-width="0.35"/>
<circle cx="349.63" cy="55.11" r="1.55" fill="#3ad41c" fill-opacity="0.45" stroke="#fff" stroke-width="0.35"/>
<circle cx="349.24" cy="57.71" r="1.55" fill="#ff6a05" stroke="#fff" stroke-width="0.35"/>
<circle cx="349.47" cy="60.31" r="1.55" fill="#2a86f5" fill-opacity="0.45" stroke="#fff" stroke-width="0.35"/>
<circle cx="349.53" cy="62.91" r="1.55" fill="#e8000b" stroke="#fff" stroke-width="0.35"/>
<circle cx="349.42" cy="65.51" r="1.55" fill="#8248fb" stroke="#fff" stroke-width="0.35"/>
<circle cx="349.47" cy="68.11" r="1.55" fill="#3ad41c" stroke="#fff" stroke-width="0.35"/>
<circle cx="349.67" cy="70.71" r="1.55" fill="#e8000b" stroke="#fff" stroke-width="0.35"/>
<circle cx="349.66" cy="73.31" r="1.55" fill="#3ad41c" stroke="#fff" stroke-width="0.35"/>
<circle cx="349.35" cy="75.91" r="1.55" fill="#ff6a05" stroke="#fff" stroke-width="0.35"/>
<circle cx="349.36" cy="78.51" r="1.55" fill="#2a86f5" fill-opacity="0.45" stroke="#fff" stroke-width="0.35"/>
<circle cx="349.39" cy="81.11" r="1.55" fill="#ff6a05" stroke="#fff" stroke-width="0.35"/>
<circle cx="349.74" cy="83.71" r="1.55" fill="#3ad41c" stroke="#fff" stroke-width="0.35"/>
<circle cx="349.25" cy="86.31" r="1.55" fill="#ff6a05" stroke="#fff" stroke-width="0.35"/>
<circle cx="349.79" cy="88.91" r="1.55" fill="#e8000b" stroke="#fff" stroke-width="0.35"/>
<circle cx="349.35" cy="91.51" r="1.55" fill="#3ad41c" stroke="#fff" stroke-width="0.35"/>
<circle cx="349.49" cy="94.11" r="1.55" fill="#8248fb" stroke="#fff" stroke-width="0.35"/>
<circle cx="349.60" cy="96.71" r="1.55" fill="#2a86f5" fill-opacity="0.45" stroke="#fff" stroke-width="0.35"/>
<circle cx="349.58" cy="99.31" r="1.55" fill="#2a86f5" fill-opacity="0.45" stroke="#fff" stroke-width="0.35"/>
<circle cx="349.61" cy="101.91" r="1.55" fill="#e8000b" stroke="#fff" stroke-width="0.35"/>
<circle cx="349.70" cy="104.51" r="1.55" fill="#e8000b" stroke="#fff" stroke-width="0.35"/>
<circle cx="349.44" cy="107.11" r="1.55" fill="#e8000b" stroke="#fff" stroke-width="0.35"/>
<circle cx="349.22" cy="109.71" r="1.55" fill="#ff6a05" fill-opacity="0.45" stroke="#fff" stroke-width="0.35"/>
<circle cx="349.32" cy="112.31" r="1.55" fill="#8248fb" fill-opacity="0.45" stroke="#fff" stroke-width="0.35"/>
<circle cx="349.47" cy="114.91" r="1.55" fill="#2a86f5" stroke="#fff" stroke-width="0.35"/>
<circle cx="352.72" cy="46.40" r="1.55" fill="#2a86f5" stroke="#fff" stroke-width="0.35"/>
<circle cx="352.56" cy="49.00" r="1.55" fill="#8248fb" fill-opacity="0.45" stroke="#fff" stroke-width="0.35"/>
<circle cx="352.77" cy="51.60" r="1.55" fill="#8248fb" stroke="#fff" stroke-width="0.35"/>
<circle cx="352.79" cy="54.20" r="1.55" fill="#ff6a05" fill-opacity="0.45" stroke="#fff" stroke-width="0.35"/>
<circle cx="352.73" cy="56.80" r="1.55" fill="#2a86f5" fill-opacity="0.45" stroke="#fff" stroke-width="0.35"/>
<circle cx="352.63" cy="59.40" r="1.55" fill="#3ad41c" fill-opacity="0.45" stroke="#fff" stroke-width="0.35"/>
<circle cx="352.48" cy="62.00" r="1.55" fill="#8248fb" stroke="#fff" stroke-width="0.35"/>
<circle cx="352.70" cy="64.60" r="1.55" fill="#2a86f5" stroke="#fff" stroke-width="0.35"/>
<circle cx="352.38" cy="67.20" r="1.55" fill="#2a86f5" stroke="#fff" stroke-width="0.35"/>
<circle cx="352.38" cy="69.80" r="1.55" fill="#3ad41c" fill-opacity="0.45" stroke="#fff" stroke-width="0.35"/>
<circle cx="352.63" cy="72.40" r="1.55" fill="#2a86f5" fill-opacity="0.45" stroke="#fff" stroke-width="0.35"/>
<circle cx="352.32" cy="75.00" r="1.55" fill="#3ad41c" fill-opacity="0.45" stroke="#fff" stroke-width="0.35"/>
<circle cx="352.41" cy="77.60" r="1.55" fill="#e8000b" stroke="#fff" stroke-width="0.35"/>
<circle cx="352.79" cy="80.20" r="1.55" fill="#ff6a05" fill-opacity="0.45" stroke="#fff" stroke-width="0.35"/>
<circle cx="352.46" cy="82.80" r="1.55" fill="#8248fb" stroke="#fff" stroke-width="0.35"/>
<circle cx="352.77" cy="85.40" r="1.55" fill="#3ad41c" stroke="#fff" stroke-width="0.35"/>
<circle cx="352.50" cy="88.00" r="1.55" fill="#ff6a05" fill-opacity="0.45" stroke="#fff" stroke-width="0.35"/>
<circle cx="352.64" cy="90.60" r="1.55" fill="#e8000b" stroke="#fff" stroke-width="0.35"/>
<circle cx="352.63" cy="93.20" r="1.55" fill="#e8000b" fill-opacity="0.45" stroke="#fff" stroke-width="0.35"/>
<circle cx="352.44" cy="95.80" r="1.55" fill="#ff6a05" stroke="#fff" stroke-width="0.35"/>
<circle cx="352.88" cy="98.40" r="1.55" fill="#8248fb" stroke="#fff" stroke-width="0.35"/>
<circle cx="352.48" cy="101.00" r="1.55" fill="#ff6a05" stroke="#fff" stroke-width="0.35"/>
<circle cx="352.61" cy="103.60" r="1.55" fill="#e8000b" stroke="#fff" stroke-width="0.35"/>
<circle cx="352.73" cy="106.20" r="1.55" fill="#8248fb" stroke="#fff" stroke-width="0.35"/>
<circle cx="352.66" cy="108.80" r="1.55" fill="#e8000b" stroke="#fff" stroke-width="0.35"/>
<circle cx="352.81" cy="111.40" r="1.55" fill="#2a86f5" stroke="#fff" stroke-width="0.35"/>
<circle cx="352.42" cy="114.00" r="1.55" fill="#2a86f5" stroke="#fff" stroke-width="0.35"/>
<circle cx="352.38" cy="116.60" r="1.55" fill="#2a86f5" stroke="#fff" stroke-width="0.35"/>
<circle cx="355.40" cy="45.64" r="1.55" fill="#ff6a05" stroke="#fff" stroke-width="0.35"/>
<circle cx="355.81" cy="48.24" r="1.55" fill="#2a86f5" stroke="#fff" stroke-width="0.35"/>
<circle cx="355.49" cy="50.84" r="1.55" fill="#ff6a05" stroke="#fff" stroke-width="0.35"/>
<circle cx="355.33" cy="53.44" r="1.55" fill="#e8000b" stroke="#fff" stroke-width="0.35"/>
<circle cx="355.79" cy="56.04" r="1.55" fill="#ff6a05" stroke="#fff" stroke-width="0.35"/>
<circle cx="355.68" cy="58.64" r="1.55" fill="#2a86f5" stroke="#fff" stroke-width="0.35"/>
<circle cx="355.80" cy="61.24" r="1.55" fill="#2a86f5" stroke="#fff" stroke-width="0.35"/>
<circle cx="355.67" cy="63.84" r="1.55" fill="#3ad41c" stroke="#fff" stroke-width="0.35"/>
<circle cx="355.54" cy="66.44" r="1.55" fill="#ff6a05" fill-opacity="0.45" stroke="#fff" stroke-width="0.35"/>
<circle cx="355.78" cy="69.04" r="1.55" fill="#8248fb" fill-opacity="0.45" stroke="#fff" stroke-width="0.35"/>
<circle cx="355.67" cy="71.64" r="1.55" fill="#8248fb" stroke="#fff" stroke-width="0.35"/>
<circle cx="355.54" cy="74.24" r="1.55" fill="#ff6a05" stroke="#fff" stroke-width="0.35"/>
<circle cx="355.39" cy="76.84" r="1.55" fill="#8248fb" stroke="#fff" stroke-width="0.35"/>
<circle cx="355.48" cy="79.44" r="1.55" fill="#e8000b" stroke="#fff" stroke-width="0.35"/>
<circle cx="355.32" cy="82.04" r="1.55" fill="#3ad41c" stroke="#fff" stroke-width="0.35"/>
<circle cx="355.50" cy="84.64" r="1.55" fill="#ff6a05" stroke="#fff" stroke-width="0.35"/>
<circle cx="355.40" cy="87.24" r="1.55" fill="#2a86f5" stroke="#fff" stroke-width="0.35"/>
<circle cx="355.47" cy="89.84" r="1.55" fill="#2a86f5" stroke="#fff" stroke-width="0.35"/>
<circle cx="355.31" cy="92.44" r="1.55" fill="#e8000b" stroke="#fff" stroke-width="0.35"/>
<circle cx="355.55" cy="95.04" r="1.55" fill="#ff6a05" fill-opacity="0.45" stroke="#fff" stroke-width="0.35"/>
<circle cx="355.71" cy="97.64" r="1.55" fill="#e8000b" stroke="#fff" stroke-width="0.35"/>
<circle cx="355.48" cy="100.24" r="1.55" fill="#8248fb" stroke="#fff" stroke-width="0.35"/>
<circle cx="355.76" cy="102.84" r="1.55" fill="#3ad41c" stroke="#fff" stroke-width="0.35"/>
<circle cx="355.47" cy="105.44" r="1.55" fill="#e8000b" stroke="#fff" stroke-width="0.35"/>
<circle cx="355.64" cy="108.04" r="1.55" fill="#ff6a05" stroke="#fff" stroke-width="0.35"/>
<circle cx="355.75" cy="110.64" r="1.55" fill="#2a86f5" stroke="#fff" stroke-width="0.35"/>
<circle cx="355.53" cy="113.24" r="1.55" fill="#2a86f5" stroke="#fff" stroke-width="0.35"/>
<circle cx="355.81" cy="115.84" r="1.55" fill="#3ad41c" stroke="#fff" stroke-width="0.35"/>
<circle cx="353.50" cy="41.20" r="1.55" fill="#e8000b" stroke="#fff" stroke-width="0.35"/>
<circle cx="356.00" cy="41.80" r="1.55" fill="#e8000b" stroke="#fff" stroke-width="0.35"/>
<circle cx="351.50" cy="43.50" r="1.55" fill="#ff6a05" stroke="#fff" stroke-width="0.35"/>
<circle cx="343.50" cy="44.80" r="1.55" fill="#3ad41c" stroke="#fff" stroke-width="0.35"/>
<line x1="276.50" y1="120.20" x2="359.80" y2="37.40" stroke="#f42a2a" stroke-width="1.1"/>
<rect x="276.50" y="37.40" width="83.30" height="82.80" fill="none" stroke="#505050" stroke-width="0.85"/>
<line x1="294.50" y1="120.20" x2="294.50" y2="122.20" stroke="#333" stroke-width="0.8"/>
<text x="294.50" y="127.80" font-size="5.6" text-anchor="middle" fill="#000" stroke="#000" stroke-width="0.18">0.2</text>
<line x1="314.14" y1="120.20" x2="314.14" y2="122.20" stroke="#333" stroke-width="0.8"/>
<text x="314.14" y="127.80" font-size="5.6" text-anchor="middle" fill="#000" stroke="#000" stroke-width="0.18">0.4</text>
<line x1="333.78" y1="120.20" x2="333.78" y2="122.20" stroke="#333" stroke-width="0.8"/>
<text x="333.78" y="127.80" font-size="5.6" text-anchor="middle" fill="#000" stroke="#000" stroke-width="0.18">0.6</text>
<line x1="353.42" y1="120.20" x2="353.42" y2="122.20" stroke="#333" stroke-width="0.8"/>
<text x="353.42" y="127.80" font-size="5.6" text-anchor="middle" fill="#000" stroke="#000" stroke-width="0.18">0.8</text>
<line x1="274.50" y1="102.80" x2="276.50" y2="102.80" stroke="#333" stroke-width="0.8"/>
<text x="272.60" y="105.10" font-size="5.6" text-anchor="end" fill="#000" stroke="#000" stroke-width="0.18">0.2</text>
<line x1="274.50" y1="83.46" x2="276.50" y2="83.46" stroke="#333" stroke-width="0.8"/>
<text x="272.60" y="85.76" font-size="5.6" text-anchor="end" fill="#000" stroke="#000" stroke-width="0.18">0.4</text>
<line x1="274.50" y1="64.13" x2="276.50" y2="64.13" stroke="#333" stroke-width="0.8"/>
<text x="272.60" y="66.43" font-size="5.6" text-anchor="end" fill="#000" stroke="#000" stroke-width="0.18">0.6</text>
<line x1="274.50" y1="44.80" x2="276.50" y2="44.80" stroke="#333" stroke-width="0.8"/>
<text x="272.60" y="47.10" font-size="5.6" text-anchor="end" fill="#000" stroke="#000" stroke-width="0.18">0.8</text>
<text x="429.65" y="35.10" font-size="6.9" text-anchor="middle" fill="#000" stroke="#000" stroke-width="0.12" textLength="42.30" lengthAdjust="spacingAndGlyphs">Nitrofurantoin</text>
<circle cx="456.50" cy="45.30" r="1.55" fill="#3ad41c" stroke="#fff" stroke-width="0.35"/>
<circle cx="456.50" cy="47.20" r="1.55" fill="#ff6a05" stroke="#fff" stroke-width="0.35"/>
<circle cx="456.50" cy="49.20" r="1.55" fill="#ff6a05" stroke="#fff" stroke-width="0.35"/>
<circle cx="456.50" cy="51.80" r="1.55" fill="#8248fb" stroke="#fff" stroke-width="0.35"/>
<circle cx="456.50" cy="54.50" r="1.55" fill="#ff6a05" stroke="#fff" stroke-width="0.35"/>
<circle cx="456.50" cy="56.50" r="1.55" fill="#ff6a05" stroke="#fff" stroke-width="0.35"/>
<circle cx="456.50" cy="59.20" r="1.55" fill="#2a86f5" stroke="#fff" stroke-width="0.35"/>
<circle cx="456.50" cy="62.20" r="1.55" fill="#ff6a05" stroke="#fff" stroke-width="0.35"/>
<circle cx="456.50" cy="65.80" r="1.55" fill="#8248fb" stroke="#fff" stroke-width="0.35"/>
<circle cx="456.50" cy="68.50" r="1.55" fill="#3ad41c" stroke="#fff" stroke-width="0.35"/>
<circle cx="456.50" cy="71.00" r="1.55" fill="#e8000b" fill-opacity="0.45" stroke="#fff" stroke-width="0.35"/>
<circle cx="456.50" cy="73.10" r="1.55" fill="#3ad41c" stroke="#fff" stroke-width="0.35"/>
<circle cx="456.50" cy="76.20" r="1.55" fill="#ff6a05" stroke="#fff" stroke-width="0.35"/>
<circle cx="456.50" cy="78.50" r="1.55" fill="#2a86f5" stroke="#fff" stroke-width="0.35"/>
<circle cx="456.50" cy="85.50" r="1.55" fill="#ff6a05" stroke="#fff" stroke-width="0.35"/>
<circle cx="456.50" cy="93.20" r="1.55" fill="#8248fb" stroke="#fff" stroke-width="0.35"/>
<circle cx="456.50" cy="104.00" r="1.55" fill="#3ad41c" stroke="#fff" stroke-width="0.35"/>
<circle cx="456.50" cy="112.70" r="1.55" fill="#ff6a05" stroke="#fff" stroke-width="0.35"/>
<circle cx="456.50" cy="115.30" r="1.55" fill="#2a86f5" stroke="#fff" stroke-width="0.35"/>
<circle cx="459.20" cy="46.80" r="1.55" fill="#ff6a05" stroke="#fff" stroke-width="0.35"/>
<circle cx="459.20" cy="49.50" r="1.55" fill="#ff6a05" fill-opacity="0.45" stroke="#fff" stroke-width="0.35"/>
<circle cx="459.20" cy="52.00" r="1.55" fill="#ff6a05" fill-opacity="0.45" stroke="#fff" stroke-width="0.35"/>
<circle cx="459.20" cy="54.20" r="1.55" fill="#ff6a05" fill-opacity="0.45" stroke="#fff" stroke-width="0.35"/>
<circle cx="459.20" cy="56.50" r="1.55" fill="#ff6a05" stroke="#fff" stroke-width="0.35"/>
<circle cx="459.20" cy="60.30" r="1.55" fill="#ff6a05" stroke="#fff" stroke-width="0.35"/>
<circle cx="459.20" cy="62.50" r="1.55" fill="#ff6a05" fill-opacity="0.45" stroke="#fff" stroke-width="0.35"/>
<circle cx="459.20" cy="64.60" r="1.55" fill="#ff6a05" stroke="#fff" stroke-width="0.35"/>
<circle cx="459.20" cy="67.70" r="1.55" fill="#ff6a05" stroke="#fff" stroke-width="0.35"/>
<circle cx="459.20" cy="71.20" r="1.55" fill="#ff6a05" stroke="#fff" stroke-width="0.35"/>
<circle cx="459.20" cy="76.50" r="1.55" fill="#ff6a05" stroke="#fff" stroke-width="0.35"/>
<circle cx="459.20" cy="88.30" r="1.55" fill="#ff6a05" stroke="#fff" stroke-width="0.35"/>
<circle cx="462.30" cy="41.10" r="1.55" fill="#8248fb" stroke="#fff" stroke-width="0.35"/>
<circle cx="462.30" cy="43.80" r="1.55" fill="#ff6a05" stroke="#fff" stroke-width="0.35"/>
<circle cx="462.30" cy="46.50" r="1.55" fill="#8248fb" fill-opacity="0.45" stroke="#fff" stroke-width="0.35"/>
<circle cx="462.30" cy="49.20" r="1.55" fill="#8248fb" fill-opacity="0.45" stroke="#fff" stroke-width="0.35"/>
<circle cx="462.30" cy="51.80" r="1.55" fill="#8248fb" stroke="#fff" stroke-width="0.35"/>
<circle cx="462.30" cy="54.50" r="1.55" fill="#2a86f5" stroke="#fff" stroke-width="0.35"/>
<circle cx="462.30" cy="56.80" r="1.55" fill="#ff6a05" stroke="#fff" stroke-width="0.35"/>
<circle cx="462.30" cy="58.80" r="1.55" fill="#3ad41c" stroke="#fff" stroke-width="0.35"/>
<circle cx="462.30" cy="61.80" r="1.55" fill="#2a86f5" stroke="#fff" stroke-width="0.35"/>
<circle cx="462.30" cy="65.40" r="1.55" fill="#3ad41c" stroke="#fff" stroke-width="0.35"/>
<circle cx="462.30" cy="68.10" r="1.55" fill="#8248fb" stroke="#fff" stroke-width="0.35"/>
<circle cx="462.30" cy="73.50" r="1.55" fill="#e8000b" stroke="#fff" stroke-width="0.35"/>
<circle cx="462.30" cy="75.40" r="1.55" fill="#8248fb" fill-opacity="0.45" stroke="#fff" stroke-width="0.35"/>
<circle cx="462.30" cy="76.50" r="1.55" fill="#3ad41c" fill-opacity="0.45" stroke="#fff" stroke-width="0.35"/>
<circle cx="462.30" cy="80.20" r="1.55" fill="#3ad41c" stroke="#fff" stroke-width="0.35"/>
<circle cx="462.30" cy="82.70" r="1.55" fill="#ff6a05" stroke="#fff" stroke-width="0.35"/>
<circle cx="462.30" cy="86.30" r="1.55" fill="#8248fb" stroke="#fff" stroke-width="0.35"/>
<circle cx="462.30" cy="116.80" r="1.55" fill="#3ad41c" stroke="#fff" stroke-width="0.35"/>
<line x1="387.70" y1="119.90" x2="471.60" y2="37.60" stroke="#f42a2a" stroke-width="1.1"/>
<rect x="387.70" y="37.60" width="83.90" height="82.30" fill="none" stroke="#505050" stroke-width="0.85"/>
<line x1="387.70" y1="119.90" x2="387.70" y2="121.90" stroke="#333" stroke-width="0.8"/>
<text x="387.70" y="127.50" font-size="5.6" text-anchor="middle" fill="#000" stroke="#000" stroke-width="0.18">0.0</text>
<line x1="406.34" y1="119.90" x2="406.34" y2="121.90" stroke="#333" stroke-width="0.8"/>
<text x="406.34" y="127.50" font-size="5.6" text-anchor="middle" fill="#000" stroke="#000" stroke-width="0.18">0.2</text>
<line x1="424.99" y1="119.90" x2="424.99" y2="121.90" stroke="#333" stroke-width="0.8"/>
<text x="424.99" y="127.50" font-size="5.6" text-anchor="middle" fill="#000" stroke="#000" stroke-width="0.18">0.4</text>
<line x1="443.63" y1="119.90" x2="443.63" y2="121.90" stroke="#333" stroke-width="0.8"/>
<text x="443.63" y="127.50" font-size="5.6" text-anchor="middle" fill="#000" stroke="#000" stroke-width="0.18">0.6</text>
<line x1="462.28" y1="119.90" x2="462.28" y2="121.90" stroke="#333" stroke-width="0.8"/>
<text x="462.28" y="127.50" font-size="5.6" text-anchor="middle" fill="#000" stroke="#000" stroke-width="0.18">0.8</text>
<line x1="385.70" y1="119.90" x2="387.70" y2="119.90" stroke="#333" stroke-width="0.8"/>
<text x="383.80" y="122.20" font-size="5.6" text-anchor="end" fill="#000" stroke="#000" stroke-width="0.18">0.0</text>
<line x1="385.70" y1="101.51" x2="387.70" y2="101.51" stroke="#333" stroke-width="0.8"/>
<text x="383.80" y="103.81" font-size="5.6" text-anchor="end" fill="#000" stroke="#000" stroke-width="0.18">0.2</text>
<line x1="385.70" y1="83.12" x2="387.70" y2="83.12" stroke="#333" stroke-width="0.8"/>
<text x="383.80" y="85.42" font-size="5.6" text-anchor="end" fill="#000" stroke="#000" stroke-width="0.18">0.4</text>
<line x1="385.70" y1="64.73" x2="387.70" y2="64.73" stroke="#333" stroke-width="0.8"/>
<text x="383.80" y="67.03" font-size="5.6" text-anchor="end" fill="#000" stroke="#000" stroke-width="0.18">0.6</text>
<line x1="385.70" y1="46.34" x2="387.70" y2="46.34" stroke="#333" stroke-width="0.8"/>
<text x="383.80" y="48.64" font-size="5.6" text-anchor="end" fill="#000" stroke="#000" stroke-width="0.18">0.8</text>
<text x="542.55" y="34.70" font-size="6.9" text-anchor="middle" fill="#000" stroke="#000" stroke-width="0.12" textLength="71.00" lengthAdjust="spacingAndGlyphs">Piperacillin<tspan dy="-0.75">_</tspan><tspan dy="0.75">Tazobactam</tspan></text>
<circle cx="578.30" cy="40.70" r="1.55" fill="#e8000b" stroke="#fff" stroke-width="0.35"/>
<circle cx="578.30" cy="43.00" r="1.55" fill="#8248fb" stroke="#fff" stroke-width="0.35"/>
<circle cx="578.30" cy="44.30" r="1.55" fill="#8248fb" stroke="#fff" stroke-width="0.35"/>
<circle cx="578.30" cy="46.10" r="1.55" fill="#3ad41c" stroke="#fff" stroke-width="0.35"/>
<circle cx="578.30" cy="48.50" r="1.55" fill="#8248fb" stroke="#fff" stroke-width="0.35"/>
<circle cx="578.30" cy="51.10" r="1.55" fill="#2a86f5" stroke="#fff" stroke-width="0.35"/>
<circle cx="578.30" cy="53.30" r="1.55" fill="#ff6a05" stroke="#fff" stroke-width="0.35"/>
<circle cx="578.30" cy="55.50" r="1.55" fill="#8248fb" stroke="#fff" stroke-width="0.35"/>
<circle cx="578.30" cy="57.80" r="1.55" fill="#e8000b" stroke="#fff" stroke-width="0.35"/>
<circle cx="578.30" cy="60.40" r="1.55" fill="#2a86f5" stroke="#fff" stroke-width="0.35"/>
<circle cx="578.30" cy="63.80" r="1.55" fill="#e8000b" stroke="#fff" stroke-width="0.35"/>
<circle cx="578.30" cy="67.10" r="1.55" fill="#e8000b" stroke="#fff" stroke-width="0.35"/>
<circle cx="578.30" cy="73.20" r="1.55" fill="#8248fb" stroke="#fff" stroke-width="0.35"/>
<circle cx="578.30" cy="76.50" r="1.55" fill="#e8000b" stroke="#fff" stroke-width="0.35"/>
<circle cx="578.30" cy="96.30" r="1.55" fill="#e8000b" stroke="#fff" stroke-width="0.35"/>
<circle cx="578.30" cy="102.70" r="1.55" fill="#2a86f5" stroke="#fff" stroke-width="0.35"/>
<circle cx="578.30" cy="105.10" r="1.55" fill="#ff6a05" stroke="#fff" stroke-width="0.35"/>
<circle cx="578.30" cy="109.10" r="1.55" fill="#ff6a05" stroke="#fff" stroke-width="0.35"/>
<circle cx="578.30" cy="117.00" r="1.55" fill="#e8000b" stroke="#fff" stroke-width="0.35"/>
<circle cx="575.80" cy="45.50" r="1.55" fill="#8248fb" stroke="#fff" stroke-width="0.35"/>
<circle cx="575.80" cy="48.90" r="1.55" fill="#ff6a05" stroke="#fff" stroke-width="0.35"/>
<circle cx="575.80" cy="51.50" r="1.55" fill="#ff6a05" stroke="#fff" stroke-width="0.35"/>
<circle cx="575.80" cy="53.90" r="1.55" fill="#3ad41c" stroke="#fff" stroke-width="0.35"/>
<circle cx="575.80" cy="56.60" r="1.55" fill="#3ad41c" stroke="#fff" stroke-width="0.35"/>
<circle cx="573.30" cy="44.70" r="1.55" fill="#ff6a05" stroke="#fff" stroke-width="0.35"/>
<circle cx="573.30" cy="47.80" r="1.55" fill="#8248fb" stroke="#fff" stroke-width="0.35"/>
<circle cx="573.30" cy="51.20" r="1.55" fill="#3ad41c" stroke="#fff" stroke-width="0.35"/>
<circle cx="573.30" cy="53.20" r="1.55" fill="#8248fb" stroke="#fff" stroke-width="0.35"/>
<circle cx="573.30" cy="55.50" r="1.55" fill="#3ad41c" stroke="#fff" stroke-width="0.35"/>
<circle cx="573.30" cy="57.20" r="1.55" fill="#3ad41c" stroke="#fff" stroke-width="0.35"/>
<circle cx="573.30" cy="60.30" r="1.55" fill="#3ad41c" stroke="#fff" stroke-width="0.35"/>
<circle cx="573.30" cy="63.40" r="1.55" fill="#3ad41c" stroke="#fff" stroke-width="0.35"/>
<circle cx="573.30" cy="68.40" r="1.55" fill="#8248fb" stroke="#fff" stroke-width="0.35"/>
<circle cx="573.30" cy="73.00" r="1.55" fill="#3ad41c" stroke="#fff" stroke-width="0.35"/>
<circle cx="573.30" cy="97.80" r="1.55" fill="#ff6a05" stroke="#fff" stroke-width="0.35"/>
<circle cx="573.30" cy="106.40" r="1.55" fill="#2a86f5" stroke="#fff" stroke-width="0.35"/>
<circle cx="573.30" cy="109.10" r="1.55" fill="#ff6a05" stroke="#fff" stroke-width="0.35"/>
<line x1="500.80" y1="120.30" x2="584.30" y2="37.20" stroke="#f42a2a" stroke-width="1.1"/>
<rect x="500.80" y="37.20" width="83.50" height="83.10" fill="none" stroke="#505050" stroke-width="0.85"/>
<line x1="510.53" y1="120.30" x2="510.53" y2="122.30" stroke="#333" stroke-width="0.8"/>
<text x="510.53" y="127.90" font-size="5.6" text-anchor="middle" fill="#000" stroke="#000" stroke-width="0.18">0.4</text>
<line x1="533.99" y1="120.30" x2="533.99" y2="122.30" stroke="#333" stroke-width="0.8"/>
<text x="533.99" y="127.90" font-size="5.6" text-anchor="middle" fill="#000" stroke="#000" stroke-width="0.18">0.6</text>
<line x1="557.44" y1="120.30" x2="557.44" y2="122.30" stroke="#333" stroke-width="0.8"/>
<text x="557.44" y="127.90" font-size="5.6" text-anchor="middle" fill="#000" stroke="#000" stroke-width="0.18">0.8</text>
<line x1="580.90" y1="120.30" x2="580.90" y2="122.30" stroke="#333" stroke-width="0.8"/>
<text x="580.90" y="127.90" font-size="5.6" text-anchor="middle" fill="#000" stroke="#000" stroke-width="0.18">1.0</text>
<line x1="498.80" y1="111.09" x2="500.80" y2="111.09" stroke="#333" stroke-width="0.8"/>
<text x="496.90" y="113.39" font-size="5.6" text-anchor="end" fill="#000" stroke="#000" stroke-width="0.18">0.4</text>
<line x1="498.80" y1="99.44" x2="500.80" y2="99.44" stroke="#333" stroke-width="0.8"/>
<text x="496.90" y="101.74" font-size="5.6" text-anchor="end" fill="#000" stroke="#000" stroke-width="0.18">0.5</text>
<line x1="498.80" y1="87.78" x2="500.80" y2="87.78" stroke="#333" stroke-width="0.8"/>
<text x="496.90" y="90.08" font-size="5.6" text-anchor="end" fill="#000" stroke="#000" stroke-width="0.18">0.6</text>
<line x1="498.80" y1="76.13" x2="500.80" y2="76.13" stroke="#333" stroke-width="0.8"/>
<text x="496.90" y="78.43" font-size="5.6" text-anchor="end" fill="#000" stroke="#000" stroke-width="0.18">0.7</text>
<line x1="498.80" y1="64.47" x2="500.80" y2="64.47" stroke="#333" stroke-width="0.8"/>
<text x="496.90" y="66.77" font-size="5.6" text-anchor="end" fill="#000" stroke="#000" stroke-width="0.18">0.8</text>
<line x1="498.80" y1="52.82" x2="500.80" y2="52.82" stroke="#333" stroke-width="0.8"/>
<text x="496.90" y="55.12" font-size="5.6" text-anchor="end" fill="#000" stroke="#000" stroke-width="0.18">0.9</text>
<line x1="498.80" y1="41.16" x2="500.80" y2="41.16" stroke="#333" stroke-width="0.8"/>
<text x="496.90" y="43.46" font-size="5.6" text-anchor="end" fill="#000" stroke="#000" stroke-width="0.18">1.0</text>
<text x="654.65" y="34.80" font-size="6.9" text-anchor="middle" fill="#000" stroke="#000" stroke-width="0.12" textLength="96.30" lengthAdjust="spacingAndGlyphs">Trimethoprim<tspan dy="-0.75">_</tspan><tspan dy="0.75">Sulfamethoxazole</tspan></text>
<circle cx="679.30" cy="45.40" r="1.55" fill="#ff6a05" stroke="#fff" stroke-width="0.35"/>
<circle cx="679.30" cy="47.40" r="1.55" fill="#ff6a05" stroke="#fff" stroke-width="0.35"/>
<circle cx="679.30" cy="49.00" r="1.55" fill="#ff6a05" stroke="#fff" stroke-width="0.35"/>
<circle cx="679.30" cy="51.40" r="1.55" fill="#ff6a05" stroke="#fff" stroke-width="0.35"/>
<circle cx="679.30" cy="53.80" r="1.55" fill="#8248fb" stroke="#fff" stroke-width="0.35"/>
<circle cx="679.30" cy="56.20" r="1.55" fill="#8248fb" stroke="#fff" stroke-width="0.35"/>
<circle cx="679.30" cy="59.40" r="1.55" fill="#ff6a05" stroke="#fff" stroke-width="0.35"/>
<circle cx="679.30" cy="61.60" r="1.55" fill="#2a86f5" stroke="#fff" stroke-width="0.35"/>
<circle cx="679.30" cy="65.50" r="1.55" fill="#ff6a05" stroke="#fff" stroke-width="0.35"/>
<circle cx="679.30" cy="68.10" r="1.55" fill="#3ad41c" stroke="#fff" stroke-width="0.35"/>
<circle cx="679.30" cy="71.10" r="1.55" fill="#8248fb" stroke="#fff" stroke-width="0.35"/>
<circle cx="679.30" cy="73.90" r="1.55" fill="#ff6a05" stroke="#fff" stroke-width="0.35"/>
<circle cx="679.30" cy="77.50" r="1.55" fill="#e8000b" stroke="#fff" stroke-width="0.35"/>
<circle cx="679.30" cy="79.90" r="1.55" fill="#2a86f5" stroke="#fff" stroke-width="0.35"/>
<circle cx="679.30" cy="82.00" r="1.55" fill="#ff6a05" stroke="#fff" stroke-width="0.35"/>
<circle cx="679.30" cy="84.00" r="1.55" fill="#e8000b" stroke="#fff" stroke-width="0.35"/>
<circle cx="679.30" cy="86.30" r="1.55" fill="#3ad41c" stroke="#fff" stroke-width="0.35"/>
<circle cx="679.30" cy="89.40" r="1.55" fill="#2a86f5" stroke="#fff" stroke-width="0.35"/>
<circle cx="679.30" cy="92.80" r="1.55" fill="#3ad41c" stroke="#fff" stroke-width="0.35"/>
<circle cx="679.30" cy="96.00" r="1.55" fill="#3ad41c" stroke="#fff" stroke-width="0.35"/>
<circle cx="679.30" cy="98.30" r="1.55" fill="#e8000b" stroke="#fff" stroke-width="0.35"/>
<circle cx="679.30" cy="100.20" r="1.55" fill="#e8000b" stroke="#fff" stroke-width="0.35"/>
<circle cx="679.30" cy="102.00" r="1.55" fill="#ff6a05" stroke="#fff" stroke-width="0.35"/>
<circle cx="679.30" cy="106.60" r="1.55" fill="#ff6a05" stroke="#fff" stroke-width="0.35"/>
<circle cx="679.30" cy="109.40" r="1.55" fill="#3ad41c" stroke="#fff" stroke-width="0.35"/>
<circle cx="679.30" cy="111.70" r="1.55" fill="#3ad41c" stroke="#fff" stroke-width="0.35"/>
<circle cx="679.30" cy="114.90" r="1.55" fill="#2a86f5" stroke="#fff" stroke-width="0.35"/>
<circle cx="679.30" cy="116.80" r="1.55" fill="#e8000b" stroke="#fff" stroke-width="0.35"/>
<circle cx="683.70" cy="44.60" r="1.55" fill="#ff6a05" stroke="#fff" stroke-width="0.35"/>
<circle cx="683.70" cy="46.20" r="1.55" fill="#2a86f5" stroke="#fff" stroke-width="0.35"/>
<circle cx="683.70" cy="49.80" r="1.55" fill="#8248fb" stroke="#fff" stroke-width="0.35"/>
<circle cx="683.70" cy="52.60" r="1.55" fill="#e8000b" stroke="#fff" stroke-width="0.35"/>
<circle cx="683.70" cy="56.60" r="1.55" fill="#8248fb" stroke="#fff" stroke-width="0.35"/>
<circle cx="683.70" cy="59.80" r="1.55" fill="#8248fb" stroke="#fff" stroke-width="0.35"/>
<circle cx="683.70" cy="62.80" r="1.55" fill="#3ad41c" stroke="#fff" stroke-width="0.35"/>
<circle cx="683.70" cy="66.00" r="1.55" fill="#ff6a05" stroke="#fff" stroke-width="0.35"/>
<circle cx="683.70" cy="69.20" r="1.55" fill="#3ad41c" stroke="#fff" stroke-width="0.35"/>
<circle cx="683.70" cy="73.90" r="1.55" fill="#e8000b" stroke="#fff" stroke-width="0.35"/>
<circle cx="683.70" cy="77.50" r="1.55" fill="#3ad41c" stroke="#fff" stroke-width="0.35"/>
<circle cx="683.70" cy="79.90" r="1.55" fill="#ff6a05" stroke="#fff" stroke-width="0.35"/>
<circle cx="683.70" cy="82.20" r="1.55" fill="#e8000b" stroke="#fff" stroke-width="0.35"/>
<circle cx="683.70" cy="84.50" r="1.55" fill="#3ad41c" stroke="#fff" stroke-width="0.35"/>
<circle cx="683.70" cy="86.80" r="1.55" fill="#ff6a05" stroke="#fff" stroke-width="0.35"/>
<circle cx="683.70" cy="95.10" r="1.55" fill="#e8000b" stroke="#fff" stroke-width="0.35"/>
<circle cx="683.70" cy="97.80" r="1.55" fill="#2a86f5" stroke="#fff" stroke-width="0.35"/>
<circle cx="683.70" cy="100.60" r="1.55" fill="#ff6a05" stroke="#fff" stroke-width="0.35"/>
<circle cx="683.70" cy="103.90" r="1.55" fill="#3ad41c" stroke="#fff" stroke-width="0.35"/>
<circle cx="683.70" cy="106.20" r="1.55" fill="#e8000b" stroke="#fff" stroke-width="0.35"/>
<circle cx="683.70" cy="109.90" r="1.55" fill="#2a86f5" stroke="#fff" stroke-width="0.35"/>
<circle cx="683.70" cy="114.90" r="1.55" fill="#e8000b" stroke="#fff" stroke-width="0.35"/>
<circle cx="683.70" cy="117.20" r="1.55" fill="#3ad41c" stroke="#fff" stroke-width="0.35"/>
<circle cx="686.90" cy="41.00" r="1.55" fill="#8248fb" stroke="#fff" stroke-width="0.35"/>
<circle cx="686.90" cy="43.00" r="1.55" fill="#8248fb" stroke="#fff" stroke-width="0.35"/>
<circle cx="686.90" cy="45.00" r="1.55" fill="#8248fb" stroke="#fff" stroke-width="0.35"/>
<circle cx="686.90" cy="49.80" r="1.55" fill="#ff6a05" stroke="#fff" stroke-width="0.35"/>
<circle cx="686.90" cy="52.20" r="1.55" fill="#e8000b" stroke="#fff" stroke-width="0.35"/>
<circle cx="686.90" cy="54.20" r="1.55" fill="#ff6a05" stroke="#fff" stroke-width="0.35"/>
<circle cx="686.90" cy="56.20" r="1.55" fill="#3ad41c" stroke="#fff" stroke-width="0.35"/>
<circle cx="686.90" cy="102.50" r="1.55" fill="#2a86f5" stroke="#fff" stroke-width="0.35"/>
<line x1="612.70" y1="120.20" x2="696.60" y2="37.30" stroke="#f42a2a" stroke-width="1.1"/>
<rect x="612.70" y="37.30" width="83.90" height="82.90" fill="none" stroke="#505050" stroke-width="0.85"/>
<line x1="630.32" y1="120.20" x2="630.32" y2="122.20" stroke="#333" stroke-width="0.8"/>
<text x="630.32" y="127.80" font-size="5.6" text-anchor="middle" fill="#000" stroke="#000" stroke-width="0.18">0.2</text>
<line x1="650.22" y1="120.20" x2="650.22" y2="122.20" stroke="#333" stroke-width="0.8"/>
<text x="650.22" y="127.80" font-size="5.6" text-anchor="middle" fill="#000" stroke="#000" stroke-width="0.18">0.4</text>
<line x1="670.13" y1="120.20" x2="670.13" y2="122.20" stroke="#333" stroke-width="0.8"/>
<text x="670.13" y="127.80" font-size="5.6" text-anchor="middle" fill="#000" stroke="#000" stroke-width="0.18">0.6</text>
<line x1="690.03" y1="120.20" x2="690.03" y2="122.20" stroke="#333" stroke-width="0.8"/>
<text x="690.03" y="127.80" font-size="5.6" text-anchor="middle" fill="#000" stroke="#000" stroke-width="0.18">0.8</text>
<line x1="610.70" y1="103.48" x2="612.70" y2="103.48" stroke="#333" stroke-width="0.8"/>
<text x="608.80" y="105.78" font-size="5.6" text-anchor="end" fill="#000" stroke="#000" stroke-width="0.18">0.2</text>
<line x1="610.70" y1="83.58" x2="612.70" y2="83.58" stroke="#333" stroke-width="0.8"/>
<text x="608.80" y="85.88" font-size="5.6" text-anchor="end" fill="#000" stroke="#000" stroke-width="0.18">0.4</text>
<line x1="610.70" y1="63.67" x2="612.70" y2="63.67" stroke="#333" stroke-width="0.8"/>
<text x="608.80" y="65.97" font-size="5.6" text-anchor="end" fill="#000" stroke="#000" stroke-width="0.18">0.6</text>
<line x1="610.70" y1="43.77" x2="612.70" y2="43.77" stroke="#333" stroke-width="0.8"/>
<text x="608.80" y="46.07" font-size="5.6" text-anchor="end" fill="#000" stroke="#000" stroke-width="0.18">0.8</text>
<text x="96.85" y="177.90" font-size="7.0" text-anchor="middle" fill="#000" stroke="#000" stroke-width="0.12" textLength="29.70" lengthAdjust="spacingAndGlyphs">Ampicillin</text>
<circle cx="136.60" cy="188.10" r="1.55" fill="#e8000b" stroke="#fff" stroke-width="0.35"/>
<circle cx="136.60" cy="192.50" r="1.55" fill="#2a86f5" stroke="#fff" stroke-width="0.35"/>
<circle cx="108.60" cy="195.20" r="1.55" fill="#8248fb" stroke="#fff" stroke-width="0.35"/>
<circle cx="127.00" cy="195.20" r="1.55" fill="#8248fb" stroke="#fff" stroke-width="0.35"/>
<circle cx="127.00" cy="203.60" r="1.55" fill="#ff6a05" stroke="#fff" stroke-width="0.35"/>
<circle cx="129.80" cy="205.80" r="1.55" fill="#8248fb" stroke="#fff" stroke-width="0.35"/>
<circle cx="108.50" cy="206.50" r="1.55" fill="#3ad41c" stroke="#fff" stroke-width="0.35"/>
<circle cx="119.00" cy="206.30" r="1.55" fill="#ff6a05" stroke="#fff" stroke-width="0.35"/>
<circle cx="129.80" cy="209.40" r="1.55" fill="#ff6a05" stroke="#fff" stroke-width="0.35"/>
<circle cx="127.00" cy="211.00" r="1.55" fill="#e8000b" stroke="#fff" stroke-width="0.35"/>
<circle cx="129.80" cy="212.90" r="1.55" fill="#2a86f5" stroke="#fff" stroke-width="0.35"/>
<circle cx="97.70" cy="209.70" r="1.55" fill="#e8000b" stroke="#fff" stroke-width="0.35"/>
<circle cx="97.70" cy="212.60" r="1.55" fill="#ff6a05" stroke="#fff" stroke-width="0.35"/>
<circle cx="97.70" cy="214.90" r="1.55" fill="#3ad41c" stroke="#fff" stroke-width="0.35"/>
<circle cx="108.50" cy="214.20" r="1.55" fill="#e8000b" stroke="#fff" stroke-width="0.35"/>
<circle cx="127.00" cy="215.50" r="1.55" fill="#e8000b" stroke="#fff" stroke-width="0.35"/>
<circle cx="136.60" cy="214.60" r="1.55" fill="#ff6a05" stroke="#fff" stroke-width="0.35"/>
<circle cx="119.00" cy="216.60" r="1.55" fill="#e8000b" stroke="#fff" stroke-width="0.35"/>
<circle cx="97.70" cy="218.00" r="1.55" fill="#8248fb" stroke="#fff" stroke-width="0.35"/>
<circle cx="108.50" cy="218.90" r="1.55" fill="#2a86f5" stroke="#fff" stroke-width="0.35"/>
<circle cx="97.70" cy="222.20" r="1.55" fill="#2a86f5" stroke="#fff" stroke-width="0.35"/>
<circle cx="127.20" cy="222.20" r="1.55" fill="#ff6a05" stroke="#fff" stroke-width="0.35"/>
<circle cx="119.20" cy="227.10" r="1.55" fill="#8248fb" stroke="#fff" stroke-width="0.35"/>
<circle cx="111.80" cy="228.60" r="1.55" fill="#8248fb" stroke="#fff" stroke-width="0.35"/>
<circle cx="108.90" cy="230.60" r="1.55" fill="#8248fb" stroke="#fff" stroke-width="0.35"/>
<circle cx="129.90" cy="228.60" r="1.55" fill="#3ad41c" stroke="#fff" stroke-width="0.35"/>
<circle cx="127.20" cy="230.40" r="1.55" fill="#3ad41c" stroke="#fff" stroke-width="0.35"/>
<circle cx="136.70" cy="231.90" r="1.55" fill="#3ad41c" stroke="#fff" stroke-width="0.35"/>
<circle cx="136.70" cy="234.30" r="1.55" fill="#8248fb" stroke="#fff" stroke-width="0.35"/>
<circle cx="108.90" cy="232.90" r="1.55" fill="#ff6a05" stroke="#fff" stroke-width="0.35"/>
<circle cx="105.80" cy="234.80" r="1.55" fill="#8248fb" stroke="#fff" stroke-width="0.35"/>
<circle cx="108.90" cy="235.20" r="1.55" fill="#2a86f5" stroke="#fff" stroke-width="0.35"/>
<circle cx="105.80" cy="237.30" r="1.55" fill="#ff6a05" stroke="#fff" stroke-width="0.35"/>
<circle cx="105.80" cy="238.70" r="1.55" fill="#3ad41c" stroke="#fff" stroke-width="0.35"/>
<circle cx="119.20" cy="237.50" r="1.55" fill="#3ad41c" stroke="#fff" stroke-width="0.35"/>
<circle cx="127.20" cy="236.90" r="1.55" fill="#8248fb" stroke="#fff" stroke-width="0.35"/>
<circle cx="111.80" cy="240.40" r="1.55" fill="#2a86f5" stroke="#fff" stroke-width="0.35"/>
<circle cx="105.80" cy="243.00" r="1.55" fill="#e8000b" stroke="#fff" stroke-width="0.35"/>
<circle cx="111.80" cy="250.00" r="1.55" fill="#3ad41c" stroke="#fff" stroke-width="0.35"/>
<circle cx="119.20" cy="251.90" r="1.55" fill="#2a86f5" stroke="#fff" stroke-width="0.35"/>
<circle cx="111.80" cy="259.80" r="1.55" fill="#e8000b" stroke="#fff" stroke-width="0.35"/>
<line x1="55.00" y1="263.40" x2="138.70" y2="180.40" stroke="#f42a2a" stroke-width="1.1"/>
<rect x="55.00" y="180.40" width="83.70" height="83.00" fill="none" stroke="#505050" stroke-width="0.85"/>
<line x1="66.71" y1="263.40" x2="66.71" y2="265.40" stroke="#333" stroke-width="0.8"/>
<text x="66.71" y="271.00" font-size="6.0" text-anchor="middle" fill="#000" stroke="#000" stroke-width="0.18">0.4</text>
<line x1="92.95" y1="263.40" x2="92.95" y2="265.40" stroke="#333" stroke-width="0.8"/>
<text x="92.95" y="271.00" font-size="6.0" text-anchor="middle" fill="#000" stroke="#000" stroke-width="0.18">0.5</text>
<line x1="119.20" y1="263.40" x2="119.20" y2="265.40" stroke="#333" stroke-width="0.8"/>
<text x="119.20" y="271.00" font-size="6.0" text-anchor="middle" fill="#000" stroke="#000" stroke-width="0.18">0.6</text>
<line x1="53.00" y1="252.10" x2="55.00" y2="252.10" stroke="#333" stroke-width="0.8"/>
<text x="51.60" y="254.50" font-size="6.0" text-anchor="end" fill="#000" stroke="#000" stroke-width="0.18">0.40</text>
<line x1="53.00" y1="238.80" x2="55.00" y2="238.80" stroke="#333" stroke-width="0.8"/>
<text x="51.60" y="241.20" font-size="6.0" text-anchor="end" fill="#000" stroke="#000" stroke-width="0.18">0.45</text>
<line x1="53.00" y1="225.50" x2="55.00" y2="225.50" stroke="#333" stroke-width="0.8"/>
<text x="51.60" y="227.90" font-size="6.0" text-anchor="end" fill="#000" stroke="#000" stroke-width="0.18">0.50</text>
<line x1="53.00" y1="212.21" x2="55.00" y2="212.21" stroke="#333" stroke-width="0.8"/>
<text x="51.60" y="214.61" font-size="6.0" text-anchor="end" fill="#000" stroke="#000" stroke-width="0.18">0.55</text>
<line x1="53.00" y1="198.91" x2="55.00" y2="198.91" stroke="#333" stroke-width="0.8"/>
<text x="51.60" y="201.31" font-size="6.0" text-anchor="end" fill="#000" stroke="#000" stroke-width="0.18">0.60</text>
<line x1="53.00" y1="185.61" x2="55.00" y2="185.61" stroke="#333" stroke-width="0.8"/>
<text x="51.60" y="188.01" font-size="6.0" text-anchor="end" fill="#000" stroke="#000" stroke-width="0.18">0.65</text>
<text x="209.40" y="178.90" font-size="7.0" text-anchor="middle" fill="#000" stroke="#000" stroke-width="0.12" textLength="28.50" lengthAdjust="spacingAndGlyphs">Cefazolin</text>
<circle cx="208.40" cy="194.20" r="1.55" fill="#8248fb" stroke="#fff" stroke-width="0.35"/>
<circle cx="213.80" cy="205.40" r="1.55" fill="#8248fb" stroke="#fff" stroke-width="0.35"/>
<circle cx="247.90" cy="205.40" r="1.55" fill="#8248fb" stroke="#fff" stroke-width="0.35"/>
<circle cx="247.90" cy="211.80" r="1.55" fill="#8248fb" stroke="#fff" stroke-width="0.35"/>
<circle cx="208.40" cy="223.40" r="1.55" fill="#e8000b" stroke="#fff" stroke-width="0.35"/>
<circle cx="228.40" cy="230.00" r="1.55" fill="#e8000b" stroke="#fff" stroke-width="0.35"/>
<circle cx="208.40" cy="236.60" r="1.55" fill="#8248fb" stroke="#fff" stroke-width="0.35"/>
<circle cx="190.70" cy="241.70" r="1.55" fill="#8248fb" stroke="#fff" stroke-width="0.35"/>
<circle cx="196.30" cy="241.70" r="1.55" fill="#8248fb" stroke="#fff" stroke-width="0.35"/>
<circle cx="219.90" cy="241.70" r="1.55" fill="#8248fb" stroke="#fff" stroke-width="0.35"/>
<circle cx="196.30" cy="248.30" r="1.55" fill="#2a86f5" stroke="#fff" stroke-width="0.35"/>
<circle cx="219.90" cy="248.30" r="1.55" fill="#ff6a05" stroke="#fff" stroke-width="0.35"/>
<circle cx="196.30" cy="261.20" r="1.55" fill="#e8000b" stroke="#fff" stroke-width="0.35"/>
<circle cx="228.40" cy="259.70" r="1.55" fill="#8248fb" stroke="#fff" stroke-width="0.35"/>
<line x1="167.50" y1="264.30" x2="251.30" y2="181.40" stroke="#f42a2a" stroke-width="1.1"/>
<rect x="167.50" y="181.40" width="83.80" height="82.90" fill="none" stroke="#505050" stroke-width="0.85"/>
<line x1="180.98" y1="264.30" x2="180.98" y2="266.30" stroke="#333" stroke-width="0.8"/>
<text x="180.98" y="271.90" font-size="6.0" text-anchor="middle" fill="#000" stroke="#000" stroke-width="0.18">0.72</text>
<line x1="200.51" y1="264.30" x2="200.51" y2="266.30" stroke="#333" stroke-width="0.8"/>
<text x="200.51" y="271.90" font-size="6.0" text-anchor="middle" fill="#000" stroke="#000" stroke-width="0.18">0.74</text>
<line x1="220.05" y1="264.30" x2="220.05" y2="266.30" stroke="#333" stroke-width="0.8"/>
<text x="220.05" y="271.90" font-size="6.0" text-anchor="middle" fill="#000" stroke="#000" stroke-width="0.18">0.76</text>
<line x1="239.58" y1="264.30" x2="239.58" y2="266.30" stroke="#333" stroke-width="0.8"/>
<text x="239.58" y="271.90" font-size="6.0" text-anchor="middle" fill="#000" stroke="#000" stroke-width="0.18">0.78</text>
<line x1="165.50" y1="251.06" x2="167.50" y2="251.06" stroke="#333" stroke-width="0.8"/>
<text x="164.10" y="253.46" font-size="6.0" text-anchor="end" fill="#000" stroke="#000" stroke-width="0.18">0.72</text>
<line x1="165.50" y1="231.74" x2="167.50" y2="231.74" stroke="#333" stroke-width="0.8"/>
<text x="164.10" y="234.14" font-size="6.0" text-anchor="end" fill="#000" stroke="#000" stroke-width="0.18">0.74</text>
<line x1="165.50" y1="212.42" x2="167.50" y2="212.42" stroke="#333" stroke-width="0.8"/>
<text x="164.10" y="214.82" font-size="6.0" text-anchor="end" fill="#000" stroke="#000" stroke-width="0.18">0.76</text>
<line x1="165.50" y1="193.09" x2="167.50" y2="193.09" stroke="#333" stroke-width="0.8"/>
<text x="164.10" y="195.49" font-size="6.0" text-anchor="end" fill="#000" stroke="#000" stroke-width="0.18">0.78</text>
<text x="325.55" y="177.90" font-size="7.0" text-anchor="middle" fill="#000" stroke="#000" stroke-width="0.12" textLength="39.40" lengthAdjust="spacingAndGlyphs">Ciprofloxacin</text>
<circle cx="340.60" cy="215.20" r="1.55" fill="#3ad41c" stroke="#fff" stroke-width="0.35"/>
<circle cx="356.00" cy="217.40" r="1.55" fill="#8248fb" stroke="#fff" stroke-width="0.35"/>
<circle cx="364.30" cy="226.00" r="1.55" fill="#8248fb" stroke="#fff" stroke-width="0.35"/>
<circle cx="340.60" cy="226.00" r="1.55" fill="#8248fb" stroke="#fff" stroke-width="0.35"/>
<circle cx="340.60" cy="229.00" r="1.55" fill="#2a86f5" stroke="#fff" stroke-width="0.35"/>
<circle cx="348.10" cy="229.00" r="1.55" fill="#8248fb" stroke="#fff" stroke-width="0.35"/>
<circle cx="317.90" cy="229.00" r="1.55" fill="#e8000b" stroke="#fff" stroke-width="0.35"/>
<circle cx="340.60" cy="232.10" r="1.55" fill="#e8000b" stroke="#fff" stroke-width="0.35"/>
<circle cx="308.10" cy="234.50" r="1.55" fill="#8248fb" stroke="#fff" stroke-width="0.35"/>
<circle cx="360.50" cy="234.50" r="1.55" fill="#8248fb" stroke="#fff" stroke-width="0.35"/>
<circle cx="308.10" cy="240.80" r="1.55" fill="#ff6a05" stroke="#fff" stroke-width="0.35"/>
<circle cx="317.90" cy="242.80" r="1.55" fill="#8248fb" stroke="#fff" stroke-width="0.35"/>
<circle cx="317.90" cy="245.00" r="1.55" fill="#8248fb" stroke="#fff" stroke-width="0.35"/>
<circle cx="337.70" cy="242.80" r="1.55" fill="#8248fb" stroke="#fff" stroke-width="0.35"/>
<circle cx="348.10" cy="242.80" r="1.55" fill="#e8000b" stroke="#fff" stroke-width="0.35"/>
<circle cx="317.90" cy="251.70" r="1.55" fill="#e8000b" stroke="#fff" stroke-width="0.35"/>
<circle cx="326.00" cy="251.70" r="1.55" fill="#8248fb" stroke="#fff" stroke-width="0.35"/>
<circle cx="326.00" cy="261.10" r="1.55" fill="#3ad41c" stroke="#fff" stroke-width="0.35"/>
<line x1="283.80" y1="263.40" x2="367.30" y2="180.40" stroke="#f42a2a" stroke-width="1.1"/>
<rect x="283.80" y="180.40" width="83.50" height="83.00" fill="none" stroke="#505050" stroke-width="0.85"/>
<line x1="283.80" y1="263.40" x2="283.80" y2="265.40" stroke="#333" stroke-width="0.8"/>
<text x="283.80" y="271.00" font-size="6.0" text-anchor="middle" fill="#000" stroke="#000" stroke-width="0.18">0.65</text>
<line x1="306.90" y1="263.40" x2="306.90" y2="265.40" stroke="#333" stroke-width="0.8"/>
<text x="306.90" y="271.00" font-size="6.0" text-anchor="middle" fill="#000" stroke="#000" stroke-width="0.18">0.70</text>
<line x1="330.01" y1="263.40" x2="330.01" y2="265.40" stroke="#333" stroke-width="0.8"/>
<text x="330.01" y="271.00" font-size="6.0" text-anchor="middle" fill="#000" stroke="#000" stroke-width="0.18">0.75</text>
<line x1="353.11" y1="263.40" x2="353.11" y2="265.40" stroke="#333" stroke-width="0.8"/>
<text x="353.11" y="271.00" font-size="6.0" text-anchor="middle" fill="#000" stroke="#000" stroke-width="0.18">0.80</text>
<line x1="281.80" y1="263.40" x2="283.80" y2="263.40" stroke="#333" stroke-width="0.8"/>
<text x="280.40" y="265.80" font-size="6.0" text-anchor="end" fill="#000" stroke="#000" stroke-width="0.18">0.650</text>
<line x1="281.80" y1="251.83" x2="283.80" y2="251.83" stroke="#333" stroke-width="0.8"/>
<text x="280.40" y="254.23" font-size="6.0" text-anchor="end" fill="#000" stroke="#000" stroke-width="0.18">0.675</text>
<line x1="281.80" y1="240.25" x2="283.80" y2="240.25" stroke="#333" stroke-width="0.8"/>
<text x="280.40" y="242.65" font-size="6.0" text-anchor="end" fill="#000" stroke="#000" stroke-width="0.18">0.700</text>
<line x1="281.80" y1="228.68" x2="283.80" y2="228.68" stroke="#333" stroke-width="0.8"/>
<text x="280.40" y="231.08" font-size="6.0" text-anchor="end" fill="#000" stroke="#000" stroke-width="0.18">0.725</text>
<line x1="281.80" y1="217.11" x2="283.80" y2="217.11" stroke="#333" stroke-width="0.8"/>
<text x="280.40" y="219.51" font-size="6.0" text-anchor="end" fill="#000" stroke="#000" stroke-width="0.18">0.750</text>
<line x1="281.80" y1="205.54" x2="283.80" y2="205.54" stroke="#333" stroke-width="0.8"/>
<text x="280.40" y="207.94" font-size="6.0" text-anchor="end" fill="#000" stroke="#000" stroke-width="0.18">0.775</text>
<line x1="281.80" y1="193.96" x2="283.80" y2="193.96" stroke="#333" stroke-width="0.8"/>
<text x="280.40" y="196.36" font-size="6.0" text-anchor="end" fill="#000" stroke="#000" stroke-width="0.18">0.800</text>
<line x1="281.80" y1="182.39" x2="283.80" y2="182.39" stroke="#333" stroke-width="0.8"/>
<text x="280.40" y="184.79" font-size="6.0" text-anchor="end" fill="#000" stroke="#000" stroke-width="0.18">0.825</text>
<text x="433.15" y="178.90" font-size="7.0" text-anchor="middle" fill="#000" stroke="#000" stroke-width="0.12" textLength="41.80" lengthAdjust="spacingAndGlyphs">Nitrofurantoin</text>
<circle cx="446.40" cy="185.30" r="1.55" fill="#e8000b" stroke="#fff" stroke-width="0.35"/>
<circle cx="462.20" cy="193.80" r="1.55" fill="#8248fb" stroke="#fff" stroke-width="0.35"/>
<circle cx="462.20" cy="199.40" r="1.55" fill="#8248fb" stroke="#fff" stroke-width="0.35"/>
<circle cx="446.40" cy="209.60" r="1.55" fill="#8248fb" stroke="#fff" stroke-width="0.35"/>
<circle cx="446.40" cy="220.60" r="1.55" fill="#8248fb" stroke="#fff" stroke-width="0.35"/>
<circle cx="441.80" cy="224.90" r="1.55" fill="#8248fb" stroke="#fff" stroke-width="0.35"/>
<circle cx="455.80" cy="224.90" r="1.55" fill="#8248fb" stroke="#fff" stroke-width="0.35"/>
<circle cx="415.70" cy="240.30" r="1.55" fill="#8248fb" stroke="#fff" stroke-width="0.35"/>
<circle cx="395.00" cy="237.80" r="1.55" fill="#8248fb" stroke="#fff" stroke-width="0.35"/>
<circle cx="395.00" cy="244.20" r="1.55" fill="#3ad41c" stroke="#fff" stroke-width="0.35"/>
<circle cx="395.00" cy="255.50" r="1.55" fill="#e8000b" stroke="#fff" stroke-width="0.35"/>
<circle cx="400.50" cy="255.50" r="1.55" fill="#e8000b" stroke="#fff" stroke-width="0.35"/>
<circle cx="395.00" cy="260.80" r="1.55" fill="#ff6a05" stroke="#fff" stroke-width="0.35"/>
<circle cx="400.50" cy="260.80" r="1.55" fill="#8248fb" stroke="#fff" stroke-width="0.35"/>
<line x1="391.50" y1="264.30" x2="474.80" y2="181.40" stroke="#f42a2a" stroke-width="1.1"/>
<rect x="391.50" y="181.40" width="83.30" height="82.90" fill="none" stroke="#505050" stroke-width="0.85"/>
<line x1="401.59" y1="264.30" x2="401.59" y2="266.30" stroke="#333" stroke-width="0.8"/>
<text x="401.59" y="271.90" font-size="6.0" text-anchor="middle" fill="#000" stroke="#000" stroke-width="0.18">0.750</text>
<line x1="422.11" y1="264.30" x2="422.11" y2="266.30" stroke="#333" stroke-width="0.8"/>
<text x="422.11" y="271.90" font-size="6.0" text-anchor="middle" fill="#000" stroke="#000" stroke-width="0.18">0.775</text>
<line x1="442.63" y1="264.30" x2="442.63" y2="266.30" stroke="#333" stroke-width="0.8"/>
<text x="442.63" y="271.90" font-size="6.0" text-anchor="middle" fill="#000" stroke="#000" stroke-width="0.18">0.800</text>
<line x1="463.15" y1="264.30" x2="463.15" y2="266.30" stroke="#333" stroke-width="0.8"/>
<text x="463.15" y="271.90" font-size="6.0" text-anchor="middle" fill="#000" stroke="#000" stroke-width="0.18">0.825</text>
<line x1="389.50" y1="262.27" x2="391.50" y2="262.27" stroke="#333" stroke-width="0.8"/>
<text x="388.10" y="264.67" font-size="6.0" text-anchor="end" fill="#000" stroke="#000" stroke-width="0.18">0.74</text>
<line x1="389.50" y1="246.07" x2="391.50" y2="246.07" stroke="#333" stroke-width="0.8"/>
<text x="388.10" y="248.47" font-size="6.0" text-anchor="end" fill="#000" stroke="#000" stroke-width="0.18">0.76</text>
<line x1="389.50" y1="229.86" x2="391.50" y2="229.86" stroke="#333" stroke-width="0.8"/>
<text x="388.10" y="232.26" font-size="6.0" text-anchor="end" fill="#000" stroke="#000" stroke-width="0.18">0.78</text>
<line x1="389.50" y1="213.65" x2="391.50" y2="213.65" stroke="#333" stroke-width="0.8"/>
<text x="388.10" y="216.05" font-size="6.0" text-anchor="end" fill="#000" stroke="#000" stroke-width="0.18">0.80</text>
<line x1="389.50" y1="197.45" x2="391.50" y2="197.45" stroke="#333" stroke-width="0.8"/>
<text x="388.10" y="199.85" font-size="6.0" text-anchor="end" fill="#000" stroke="#000" stroke-width="0.18">0.82</text>
<text x="547.00" y="178.90" font-size="7.0" text-anchor="middle" fill="#000" stroke="#000" stroke-width="0.12" textLength="71.00" lengthAdjust="spacingAndGlyphs">Piperacillin<tspan dy="-0.75">_</tspan><tspan dy="0.75">Tazobactam</tspan></text>
<circle cx="508.70" cy="260.60" r="1.55" fill="#8248fb" stroke="#fff" stroke-width="0.35"/>
<circle cx="546.70" cy="223.00" r="1.55" fill="#8248fb" stroke="#fff" stroke-width="0.35"/>
<circle cx="584.60" cy="185.20" r="1.55" fill="#8248fb" stroke="#fff" stroke-width="0.35"/>
<line x1="505.40" y1="264.30" x2="588.60" y2="181.40" stroke="#f42a2a" stroke-width="1.1"/>
<rect x="505.40" y="181.40" width="83.20" height="82.90" fill="none" stroke="#505050" stroke-width="0.85"/>
<line x1="508.50" y1="264.30" x2="508.50" y2="266.30" stroke="#333" stroke-width="0.8"/>
<text x="508.50" y="271.90" font-size="6.0" text-anchor="middle" fill="#000" stroke="#000" stroke-width="0.18">0.94</text>
<line x1="527.50" y1="264.30" x2="527.50" y2="266.30" stroke="#333" stroke-width="0.8"/>
<text x="527.50" y="271.90" font-size="6.0" text-anchor="middle" fill="#000" stroke="#000" stroke-width="0.18">0.95</text>
<line x1="546.50" y1="264.30" x2="546.50" y2="266.30" stroke="#333" stroke-width="0.8"/>
<text x="546.50" y="271.90" font-size="6.0" text-anchor="middle" fill="#000" stroke="#000" stroke-width="0.18">0.96</text>
<line x1="565.50" y1="264.30" x2="565.50" y2="266.30" stroke="#333" stroke-width="0.8"/>
<text x="565.50" y="271.90" font-size="6.0" text-anchor="middle" fill="#000" stroke="#000" stroke-width="0.18">0.97</text>
<line x1="584.50" y1="264.30" x2="584.50" y2="266.30" stroke="#333" stroke-width="0.8"/>
<text x="584.50" y="271.90" font-size="6.0" text-anchor="middle" fill="#000" stroke="#000" stroke-width="0.18">0.98</text>
<line x1="503.40" y1="261.61" x2="505.40" y2="261.61" stroke="#333" stroke-width="0.8"/>
<text x="502.00" y="264.01" font-size="6.0" text-anchor="end" fill="#000" stroke="#000" stroke-width="0.18">0.94</text>
<line x1="503.40" y1="242.63" x2="505.40" y2="242.63" stroke="#333" stroke-width="0.8"/>
<text x="502.00" y="245.03" font-size="6.0" text-anchor="end" fill="#000" stroke="#000" stroke-width="0.18">0.95</text>
<line x1="503.40" y1="223.66" x2="505.40" y2="223.66" stroke="#333" stroke-width="0.8"/>
<text x="502.00" y="226.06" font-size="6.0" text-anchor="end" fill="#000" stroke="#000" stroke-width="0.18">0.96</text>
<line x1="503.40" y1="204.68" x2="505.40" y2="204.68" stroke="#333" stroke-width="0.8"/>
<text x="502.00" y="207.08" font-size="6.0" text-anchor="end" fill="#000" stroke="#000" stroke-width="0.18">0.97</text>
<line x1="503.40" y1="185.71" x2="505.40" y2="185.71" stroke="#333" stroke-width="0.8"/>
<text x="502.00" y="188.11" font-size="6.0" text-anchor="end" fill="#000" stroke="#000" stroke-width="0.18">0.98</text>
<defs><clipPath id="tc"><rect x="0" y="0" width="706.1" height="325"/></clipPath></defs>
<text clip-path="url(#tc)" x="659.50" y="178.90" font-size="7.0" text-anchor="middle" fill="#000" stroke="#000" stroke-width="0.12" textLength="96.30" lengthAdjust="spacingAndGlyphs">Trimethoprim<tspan dy="-0.75">_</tspan><tspan dy="0.75">Sulfamethoxazole</tspan></text>
<circle cx="697.50" cy="184.80" r="1.55" fill="#8248fb" stroke="#fff" stroke-width="0.35"/>
<circle cx="682.60" cy="218.00" r="1.55" fill="#8248fb" stroke="#fff" stroke-width="0.35"/>
<circle cx="649.70" cy="228.80" r="1.55" fill="#8248fb" stroke="#fff" stroke-width="0.35"/>
<circle cx="654.00" cy="228.80" r="1.55" fill="#8248fb" stroke="#fff" stroke-width="0.35"/>
<circle cx="656.10" cy="239.20" r="1.55" fill="#e8000b" stroke="#fff" stroke-width="0.35"/>
<circle cx="656.10" cy="241.80" r="1.55" fill="#8248fb" stroke="#fff" stroke-width="0.35"/>
<circle cx="677.50" cy="239.50" r="1.55" fill="#8248fb" stroke="#fff" stroke-width="0.35"/>
<circle cx="679.60" cy="260.70" r="1.55" fill="#8248fb" stroke="#fff" stroke-width="0.35"/>
<line x1="617.60" y1="264.30" x2="701.40" y2="181.40" stroke="#f42a2a" stroke-width="1.1"/>
<rect x="617.60" y="181.40" width="83.80" height="82.90" fill="none" stroke="#505050" stroke-width="0.85"/>
<line x1="628.52" y1="264.30" x2="628.52" y2="266.30" stroke="#333" stroke-width="0.8"/>
<text x="628.52" y="271.90" font-size="6.0" text-anchor="middle" fill="#000" stroke="#000" stroke-width="0.18">0.65</text>
<line x1="658.02" y1="264.30" x2="658.02" y2="266.30" stroke="#333" stroke-width="0.8"/>
<text x="658.02" y="271.90" font-size="6.0" text-anchor="middle" fill="#000" stroke="#000" stroke-width="0.18">0.70</text>
<line x1="687.53" y1="264.30" x2="687.53" y2="266.30" stroke="#333" stroke-width="0.8"/>
<text x="687.53" y="271.90" font-size="6.0" text-anchor="middle" fill="#000" stroke="#000" stroke-width="0.18">0.75</text>
<line x1="615.60" y1="260.01" x2="617.60" y2="260.01" stroke="#333" stroke-width="0.8"/>
<text x="614.20" y="262.41" font-size="6.0" text-anchor="end" fill="#000" stroke="#000" stroke-width="0.18">0.64</text>
<line x1="615.60" y1="248.25" x2="617.60" y2="248.25" stroke="#333" stroke-width="0.8"/>
<text x="614.20" y="250.65" font-size="6.0" text-anchor="end" fill="#000" stroke="#000" stroke-width="0.18">0.66</text>
<line x1="615.60" y1="236.49" x2="617.60" y2="236.49" stroke="#333" stroke-width="0.8"/>
<text x="614.20" y="238.89" font-size="6.0" text-anchor="end" fill="#000" stroke="#000" stroke-width="0.18">0.68</text>
<line x1="615.60" y1="224.73" x2="617.60" y2="224.73" stroke="#333" stroke-width="0.8"/>
<text x="614.20" y="227.13" font-size="6.0" text-anchor="end" fill="#000" stroke="#000" stroke-width="0.18">0.70</text>
<line x1="615.60" y1="212.97" x2="617.60" y2="212.97" stroke="#333" stroke-width="0.8"/>
<text x="614.20" y="215.37" font-size="6.0" text-anchor="end" fill="#000" stroke="#000" stroke-width="0.18">0.72</text>
<line x1="615.60" y1="201.21" x2="617.60" y2="201.21" stroke="#333" stroke-width="0.8"/>
<text x="614.20" y="203.61" font-size="6.0" text-anchor="end" fill="#000" stroke="#000" stroke-width="0.18">0.74</text>
<line x1="615.60" y1="189.45" x2="617.60" y2="189.45" stroke="#333" stroke-width="0.8"/>
<text x="614.20" y="191.85" font-size="6.0" text-anchor="end" fill="#000" stroke="#000" stroke-width="0.18">0.76</text>
<line x1="30.4" y1="281.5" x2="30.4" y2="77" stroke="#111" stroke-width="1.15"/>
<path d="M30.4 72.3 L27.5 78.3 L30.4 77.2 L33.3 78.3 Z" fill="#111"/>
<line x1="29.85" y1="281.5" x2="235" y2="281.5" stroke="#111" stroke-width="1.15"/>
<path d="M239.3 281.5 L233.3 278.6 L234.4 281.5 L233.3 284.4 Z" fill="#111"/>
<text x="126" y="294.7" font-size="10.65" text-anchor="middle" fill="#111" stroke="#111" stroke-width="0.2">Random Forest (F1 Weighted)</text>
<text transform="translate(25.6 183.8) rotate(-90)" x="0" y="0" font-size="10.65" text-anchor="middle" fill="#111" stroke="#111" stroke-width="0.2">Quantum Projection (F1 Weighted)</text>
<rect x="149.1" y="306" width="13" height="8.1" fill="#2f7fd5"/>
<text x="164.5" y="314.6" font-size="12.2" fill="#111" stroke="#111" stroke-width="0.2">QPL + RF</text>
<rect x="242.9" y="306" width="13" height="8.1" fill="#33c000"/>
<text x="258.3" y="314.6" font-size="12.2" fill="#111" stroke="#111" stroke-width="0.2">QPL + SVC</text>
<rect x="345.0" y="306" width="13" height="8.1" fill="#e86a0c"/>
<text x="360.4" y="314.6" font-size="12.2" fill="#111" stroke="#111" stroke-width="0.2">QPL + MLP</text>
<rect x="448.9" y="306" width="13" height="8.1" fill="#d5134c"/>
<text x="464.29999999999995" y="314.6" font-size="12.2" fill="#111" stroke="#111" stroke-width="0.2">QPL + LR</text>
<rect x="542.5" y="306" width="13" height="8.1" fill="#8b57fa"/>
<text x="557.9" y="314.6" font-size="12.2" fill="#111" stroke="#111" stroke-width="0.2">QPL + XGB</text>
</svg>
</body></html>
